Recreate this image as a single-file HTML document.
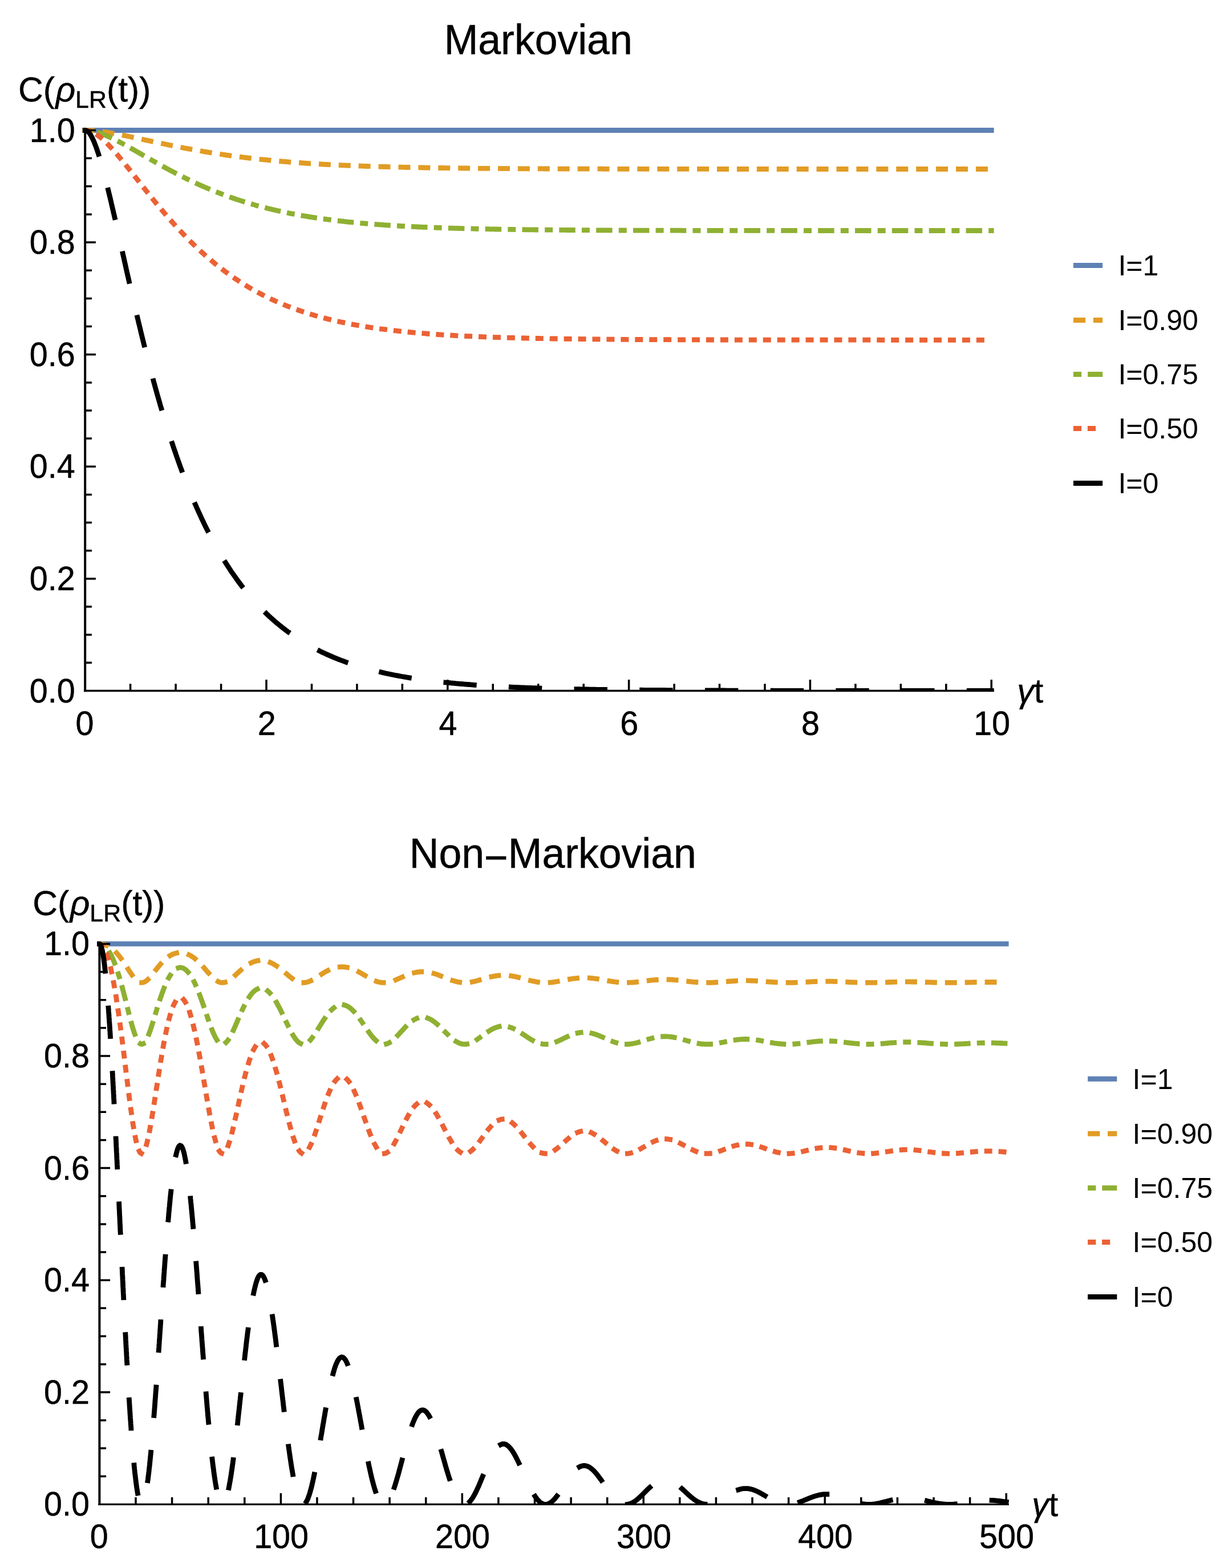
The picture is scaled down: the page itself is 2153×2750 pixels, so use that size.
<!DOCTYPE html>
<html lang="en"><head><meta charset="utf-8"><title>Markovian / Non-Markovian</title>
<style>
html,body{margin:0;padding:0;background:#fff}
svg{display:block}
</style></head>
<body>
<svg width="2153" height="2750" viewBox="0 0 2153 2750">
<rect width="2153" height="2750" fill="#fff"/>
<g id="markovian">
<clipPath id="clipM10"><rect x="119.2" y="198.5" width="1649.0" height="1014.6"/></clipPath>
<g clip-path="url(#clipM10)" fill="none" stroke-width="8.8" stroke-linecap="square" stroke-linejoin="round">
<line x1="149.2" y1="228.5" x2="1738.2" y2="228.5" stroke="#5E81B5" stroke-width="8.8"/>
<polyline points="149.2,228.5 149.6,228.5 151.7,228.5 154.2,228.6 156.7,228.7 159.2,228.8 161.7,229.0 164.2,229.2 166.7,229.4 169.1,229.6 171.6,229.9 174.1,230.2 176.6,230.5 179.1,230.8 181.5,231.2 184.0,231.6 186.5,231.9 188.9,232.3 191.4,232.7 193.9,233.2 196.3,233.6 198.8,234.0 201.3,234.5 203.7,234.9 206.2,235.4 208.6,235.9 211.1,236.3 213.5,236.8 216.0,237.3 218.4,237.8 220.9,238.3 223.3,238.8 225.8,239.3 228.2,239.8 230.7,240.3 233.1,240.9 235.5,241.4 238.0,241.9 240.4,242.4 242.9,242.9 245.3,243.5 247.8,244.0 250.2,244.5 252.6,245.0 255.1,245.6 257.5,246.1 260.0,246.6 262.4,247.1 264.9,247.7 267.3,248.2 269.7,248.7 272.2,249.2 274.6,249.8 277.1,250.3 279.5,250.8 282.0,251.3 284.4,251.8 286.9,252.3 289.3,252.8 291.7,253.3 294.2,253.9 296.6,254.4 299.1,254.9 301.5,255.4 304.0,255.8 306.4,256.3 308.9,256.8 311.3,257.3 313.8,257.8 316.2,258.3 318.7,258.7 321.1,259.2 323.6,259.7 326.1,260.2 328.5,260.6 331.0,261.1 333.4,261.5 335.9,262.0 338.3,262.4 340.8,262.9 343.3,263.3 345.7,263.8 348.2,264.2 350.6,264.6 353.1,265.0 355.6,265.5 358.0,265.9 360.5,266.3 362.9,266.7 365.4,267.1 367.9,267.5 370.3,267.9 372.8,268.3 375.3,268.7 377.7,269.1 380.2,269.5 382.7,269.9 385.2,270.2 387.6,270.6 390.1,271.0 392.6,271.3 395.0,271.7 397.5,272.1 400.0,272.4 402.5,272.8 404.9,273.1 407.4,273.4 409.9,273.8 412.4,274.1 414.8,274.4 417.3,274.8 419.8,275.1 422.3,275.4 424.8,275.7 427.2,276.0 429.7,276.3 432.2,276.6 434.7,276.9 437.2,277.2 439.6,277.5 442.1,277.8 444.6,278.1 447.1,278.4 449.6,278.6 452.0,278.9 454.5,279.2 457.0,279.5 459.5,279.7 462.0,280.0 464.5,280.2 467.0,280.5 469.4,280.7 471.9,281.0 474.4,281.2 476.9,281.5 479.4,281.7 481.9,281.9 484.4,282.2 486.8,282.4 489.3,282.6 491.8,282.8 494.3,283.0 496.8,283.3 499.3,283.5 501.8,283.7 504.3,283.9 506.8,284.1 509.3,284.3 511.7,284.5 514.2,284.7 516.7,284.9 519.2,285.0 521.7,285.2 524.2,285.4 526.7,285.6 529.2,285.8 531.7,285.9 534.2,286.1 536.7,286.3 539.2,286.5 541.6,286.6 544.1,286.8 546.6,286.9 549.1,287.1 551.6,287.2 554.1,287.4 556.6,287.6 559.1,287.7 561.6,287.8 564.1,288.0 566.6,288.1 569.1,288.3 571.6,288.4 574.1,288.5 576.6,288.7 579.1,288.8 581.6,288.9 584.1,289.1 586.5,289.2 589.0,289.3 591.5,289.4 594.0,289.5 596.5,289.7 599.0,289.8 601.5,289.9 604.0,290.0 606.5,290.1 609.0,290.2 611.5,290.3 614.0,290.4 616.5,290.5 619.0,290.6 621.5,290.7 624.0,290.8 626.5,290.9 629.0,291.0 631.5,291.1 634.0,291.2 636.5,291.3 639.0,291.4 641.5,291.5 644.0,291.5 646.5,291.6 649.0,291.7 651.4,291.8 653.9,291.9 656.4,292.0 658.9,292.0 661.4,292.1 663.9,292.2 666.4,292.3 668.9,292.3 671.4,292.4 673.9,292.5 676.4,292.5 678.9,292.6 681.4,292.7 683.9,292.7 686.4,292.8 688.9,292.9 691.4,292.9 693.9,293.0 696.4,293.1 698.9,293.1 701.4,293.2 703.9,293.2 706.4,293.3 708.9,293.3 711.4,293.4 713.9,293.5 716.4,293.5 718.9,293.6 721.4,293.6 723.9,293.7 726.4,293.7 728.9,293.8 731.4,293.8 733.9,293.8 736.4,293.9 738.9,293.9 741.4,294.0 743.9,294.0 746.4,294.1 748.9,294.1 751.4,294.2 753.9,294.2 756.4,294.2 758.8,294.3 761.3,294.3 763.8,294.4 766.3,294.4 768.8,294.4 771.3,294.5 773.8,294.5 776.3,294.5 778.8,294.6 781.3,294.6 783.8,294.6 786.3,294.7 788.8,294.7 791.3,294.7 793.8,294.8 796.3,294.8 798.8,294.8 801.3,294.9 803.8,294.9 806.3,294.9 808.8,294.9 811.3,295.0 813.8,295.0 816.3,295.0 818.8,295.0 821.3,295.1 823.8,295.1 826.3,295.1 828.8,295.1 831.3,295.2 833.8,295.2 836.3,295.2 838.8,295.2 841.3,295.3 843.8,295.3 846.3,295.3 848.8,295.3 851.3,295.3 853.8,295.4 856.3,295.4 858.8,295.4 861.3,295.4 863.8,295.4 866.3,295.5 868.8,295.5 871.3,295.5 873.8,295.5 876.3,295.5 878.8,295.6 881.3,295.6 883.8,295.6 886.3,295.6 888.8,295.6 891.3,295.6 893.8,295.7 896.3,295.7 898.8,295.7 901.2,295.7 903.7,295.7 906.2,295.7 908.7,295.7 911.2,295.8 913.7,295.8 916.2,295.8 918.7,295.8 921.2,295.8 923.7,295.8 926.2,295.8 928.7,295.8 931.2,295.9 933.7,295.9 936.2,295.9 938.7,295.9 941.2,295.9 943.7,295.9 946.2,295.9 948.7,295.9 951.2,295.9 953.7,296.0 956.2,296.0 958.7,296.0 961.2,296.0 963.7,296.0 966.2,296.0 968.7,296.0 971.2,296.0 973.7,296.0 976.2,296.0 978.7,296.0 981.2,296.1 983.7,296.1 986.2,296.1 988.7,296.1 991.2,296.1 993.7,296.1 996.2,296.1 998.7,296.1 1001.2,296.1 1003.7,296.1 1006.2,296.1 1008.7,296.1 1011.2,296.1 1013.7,296.1 1016.2,296.2 1018.7,296.2 1021.2,296.2 1023.7,296.2 1026.2,296.2 1028.7,296.2 1031.2,296.2 1033.7,296.2 1036.2,296.2 1038.7,296.2 1041.2,296.2 1043.7,296.2 1046.2,296.2 1048.7,296.2 1051.1,296.2 1053.6,296.2 1056.1,296.2 1058.6,296.3 1061.1,296.3 1063.6,296.3 1066.1,296.3 1068.6,296.3 1071.1,296.3 1073.6,296.3 1076.1,296.3 1078.6,296.3 1081.1,296.3 1083.6,296.3 1086.1,296.3 1088.6,296.3 1091.1,296.3 1093.6,296.3 1096.1,296.3 1098.6,296.3 1101.1,296.3 1103.6,296.3 1106.1,296.3 1108.6,296.3 1111.1,296.3 1113.6,296.3 1116.1,296.3 1118.6,296.3 1121.1,296.3 1123.6,296.4 1126.1,296.4 1128.6,296.4 1131.1,296.4 1133.6,296.4 1136.1,296.4 1138.6,296.4 1141.1,296.4 1143.6,296.4 1146.1,296.4 1148.6,296.4 1151.1,296.4 1153.6,296.4 1156.1,296.4 1158.6,296.4 1161.1,296.4 1163.6,296.4 1166.1,296.4 1168.6,296.4 1171.1,296.4 1173.6,296.4 1176.1,296.4 1178.6,296.4 1181.1,296.4 1183.6,296.4 1186.1,296.4 1188.6,296.4 1191.1,296.4 1193.6,296.4 1196.1,296.4 1198.6,296.4 1201.1,296.4 1203.5,296.4 1206.0,296.4 1208.5,296.4 1211.0,296.4 1213.5,296.4 1216.0,296.4 1218.5,296.4 1221.0,296.4 1223.5,296.4 1226.0,296.4 1228.5,296.4 1231.0,296.4 1233.5,296.4 1236.0,296.4 1238.5,296.4 1241.0,296.4 1243.5,296.5 1246.0,296.5 1248.5,296.5 1251.0,296.5 1253.5,296.5 1256.0,296.5 1258.5,296.5 1261.0,296.5 1263.5,296.5 1266.0,296.5 1268.5,296.5 1271.0,296.5 1273.5,296.5 1276.0,296.5 1278.5,296.5 1281.0,296.5 1283.5,296.5 1286.0,296.5 1288.5,296.5 1291.0,296.5 1293.5,296.5 1296.0,296.5 1298.5,296.5 1301.0,296.5 1303.5,296.5 1306.0,296.5 1308.5,296.5 1311.0,296.5 1313.5,296.5 1316.0,296.5 1318.5,296.5 1321.0,296.5 1323.5,296.5 1326.0,296.5 1328.5,296.5 1331.0,296.5 1333.5,296.5 1336.0,296.5 1338.5,296.5 1341.0,296.5 1343.5,296.5 1346.0,296.5 1348.5,296.5 1351.0,296.5 1353.5,296.5 1356.0,296.5 1358.4,296.5 1360.9,296.5 1363.4,296.5 1365.9,296.5 1368.4,296.5 1370.9,296.5 1373.4,296.5 1375.9,296.5 1378.4,296.5 1380.9,296.5 1383.4,296.5 1385.9,296.5 1388.4,296.5 1390.9,296.5 1393.4,296.5 1395.9,296.5 1398.4,296.5 1400.9,296.5 1403.4,296.5 1405.9,296.5 1408.4,296.5 1410.9,296.5 1413.4,296.5 1415.9,296.5 1418.4,296.5 1420.9,296.5 1423.4,296.5 1425.9,296.5 1428.4,296.5 1430.9,296.5 1433.4,296.5 1435.9,296.5 1438.4,296.5 1440.9,296.5 1443.4,296.5 1445.9,296.5 1448.4,296.5 1450.9,296.5 1453.4,296.5 1455.9,296.5 1458.4,296.5 1460.9,296.5 1463.4,296.5 1465.9,296.5 1468.4,296.5 1470.9,296.5 1473.4,296.5 1475.9,296.5 1478.4,296.5 1480.9,296.5 1483.4,296.5 1485.9,296.5 1488.4,296.5 1490.9,296.5 1493.4,296.5 1495.9,296.5 1498.4,296.5 1500.9,296.5 1503.4,296.5 1505.9,296.5 1508.4,296.5 1510.8,296.5 1513.3,296.5 1515.8,296.5 1518.3,296.5 1520.8,296.5 1523.3,296.5 1525.8,296.5 1528.3,296.5 1530.8,296.5 1533.3,296.5 1535.8,296.5 1538.3,296.5 1540.8,296.5 1543.3,296.5 1545.8,296.5 1548.3,296.5 1550.8,296.5 1553.3,296.5 1555.8,296.5 1558.3,296.5 1560.8,296.5 1563.3,296.5 1565.8,296.5 1568.3,296.5 1570.8,296.5 1573.3,296.5 1575.8,296.5 1578.3,296.5 1580.8,296.5 1583.3,296.5 1585.8,296.5 1588.3,296.5 1590.8,296.5 1593.3,296.5 1595.8,296.5 1598.3,296.5 1600.8,296.5 1603.3,296.5 1605.8,296.5 1608.3,296.5 1610.8,296.5 1613.3,296.5 1615.8,296.5 1618.3,296.5 1620.8,296.5 1623.3,296.5 1625.8,296.5 1628.3,296.5 1630.8,296.5 1633.3,296.5 1635.8,296.5 1638.3,296.5 1640.8,296.5 1643.3,296.5 1645.8,296.5 1648.3,296.5 1650.8,296.5 1653.3,296.5 1655.8,296.5 1658.3,296.5 1660.8,296.5 1663.2,296.5 1665.7,296.5 1668.2,296.5 1670.7,296.5 1673.2,296.5 1675.7,296.5 1678.2,296.5 1680.7,296.5 1683.2,296.5 1685.7,296.5 1688.2,296.5 1690.7,296.5 1693.2,296.5 1695.7,296.5 1698.2,296.5 1700.7,296.5 1703.2,296.5 1705.7,296.5 1708.2,296.5 1710.7,296.5 1713.2,296.5 1715.7,296.5 1718.2,296.5 1720.7,296.5 1723.2,296.5 1725.7,296.5 1728.2,296.5 1730.7,296.5 1733.2,296.5 1735.7,296.5 1738.2,296.5" stroke="#E19C24" stroke-dasharray="12.2 22.715"/>
<polyline points="149.2,228.5 149.6,228.5 151.7,228.6 154.2,228.7 156.7,229.0 159.1,229.4 161.6,229.8 164.0,230.3 166.5,230.9 168.9,231.6 171.3,232.3 173.7,233.0 176.0,233.8 178.4,234.7 180.7,235.6 183.0,236.5 185.4,237.4 187.7,238.4 189.9,239.4 192.2,240.4 194.5,241.5 196.7,242.6 199.0,243.7 201.2,244.8 203.5,245.9 205.7,247.0 207.9,248.2 210.1,249.3 212.3,250.5 214.5,251.7 216.7,252.9 218.9,254.1 221.1,255.3 223.3,256.5 225.5,257.7 227.6,258.9 229.8,260.2 232.0,261.4 234.2,262.6 236.3,263.9 238.5,265.1 240.7,266.3 242.8,267.6 245.0,268.8 247.2,270.1 249.3,271.3 251.5,272.6 253.7,273.8 255.8,275.0 258.0,276.3 260.2,277.5 262.3,278.8 264.5,280.0 266.7,281.2 268.9,282.5 271.0,283.7 273.2,284.9 275.4,286.2 277.6,287.4 279.8,288.6 281.9,289.8 284.1,291.0 286.3,292.2 288.5,293.4 290.7,294.6 292.9,295.8 295.1,297.0 297.3,298.2 299.5,299.4 301.7,300.5 303.9,301.7 306.1,302.9 308.3,304.0 310.6,305.2 312.8,306.3 315.0,307.4 317.2,308.6 319.5,309.7 321.7,310.8 323.9,311.9 326.2,313.0 328.4,314.1 330.7,315.2 332.9,316.3 335.2,317.4 337.4,318.5 339.7,319.5 342.0,320.6 344.2,321.6 346.5,322.7 348.8,323.7 351.1,324.7 353.3,325.7 355.6,326.7 357.9,327.7 360.2,328.7 362.5,329.7 364.8,330.7 367.1,331.7 369.4,332.6 371.7,333.6 374.0,334.5 376.3,335.5 378.7,336.4 381.0,337.3 383.3,338.2 385.6,339.1 388.0,340.0 390.3,340.9 392.7,341.8 395.0,342.6 397.3,343.5 399.7,344.3 402.0,345.2 404.4,346.0 406.8,346.8 409.1,347.7 411.5,348.5 413.9,349.3 416.2,350.1 418.6,350.8 421.0,351.6 423.3,352.4 425.7,353.1 428.1,353.9 430.5,354.6 432.9,355.4 435.3,356.1 437.7,356.8 440.1,357.5 442.5,358.2 444.9,358.9 447.3,359.6 449.7,360.3 452.1,360.9 454.5,361.6 456.9,362.2 459.3,362.9 461.7,363.5 464.2,364.1 466.6,364.7 469.0,365.4 471.4,366.0 473.9,366.5 476.3,367.1 478.7,367.7 481.1,368.3 483.6,368.8 486.0,369.4 488.5,369.9 490.9,370.5 493.3,371.0 495.8,371.5 498.2,372.1 500.7,372.6 503.1,373.1 505.6,373.6 508.0,374.1 510.5,374.6 512.9,375.0 515.4,375.5 517.8,376.0 520.3,376.4 522.7,376.9 525.2,377.3 527.7,377.8 530.1,378.2 532.6,378.6 535.0,379.0 537.5,379.4 540.0,379.9 542.4,380.3 544.9,380.7 547.4,381.0 549.8,381.4 552.3,381.8 554.8,382.2 557.3,382.5 559.7,382.9 562.2,383.3 564.7,383.6 567.1,383.9 569.6,384.3 572.1,384.6 574.6,385.0 577.1,385.3 579.5,385.6 582.0,385.9 584.5,386.2 587.0,386.5 589.5,386.8 591.9,387.1 594.4,387.4 596.9,387.7 599.4,388.0 601.9,388.2 604.3,388.5 606.8,388.8 609.3,389.1 611.8,389.3 614.3,389.6 616.8,389.8 619.3,390.1 621.7,390.3 624.2,390.5 626.7,390.8 629.2,391.0 631.7,391.2 634.2,391.5 636.7,391.7 639.2,391.9 641.6,392.1 644.1,392.3 646.6,392.5 649.1,392.7 651.6,392.9 654.1,393.1 656.6,393.3 659.1,393.5 661.6,393.7 664.1,393.9 666.6,394.1 669.0,394.2 671.5,394.4 674.0,394.6 676.5,394.8 679.0,394.9 681.5,395.1 684.0,395.3 686.5,395.4 689.0,395.6 691.5,395.7 694.0,395.9 696.5,396.0 699.0,396.2 701.5,396.3 704.0,396.5 706.5,396.6 708.9,396.7 711.4,396.9 713.9,397.0 716.4,397.1 718.9,397.2 721.4,397.4 723.9,397.5 726.4,397.6 728.9,397.7 731.4,397.9 733.9,398.0 736.4,398.1 738.9,398.2 741.4,398.3 743.9,398.4 746.4,398.5 748.9,398.6 751.4,398.7 753.9,398.8 756.4,398.9 758.9,399.0 761.4,399.1 763.9,399.2 766.4,399.3 768.8,399.4 771.3,399.5 773.8,399.6 776.3,399.6 778.8,399.7 781.3,399.8 783.8,399.9 786.3,400.0 788.8,400.1 791.3,400.1 793.8,400.2 796.3,400.3 798.8,400.4 801.3,400.4 803.8,400.5 806.3,400.6 808.8,400.6 811.3,400.7 813.8,400.8 816.3,400.8 818.8,400.9 821.3,401.0 823.8,401.0 826.3,401.1 828.8,401.1 831.3,401.2 833.8,401.3 836.3,401.3 838.8,401.4 841.3,401.4 843.8,401.5 846.3,401.5 848.8,401.6 851.3,401.6 853.8,401.7 856.3,401.7 858.8,401.8 861.3,401.8 863.8,401.9 866.3,401.9 868.8,402.0 871.2,402.0 873.7,402.1 876.2,402.1 878.7,402.1 881.2,402.2 883.7,402.2 886.2,402.3 888.7,402.3 891.2,402.3 893.7,402.4 896.2,402.4 898.7,402.4 901.2,402.5 903.7,402.5 906.2,402.6 908.7,402.6 911.2,402.6 913.7,402.7 916.2,402.7 918.7,402.7 921.2,402.8 923.7,402.8 926.2,402.8 928.7,402.8 931.2,402.9 933.7,402.9 936.2,402.9 938.7,403.0 941.2,403.0 943.7,403.0 946.2,403.0 948.7,403.1 951.2,403.1 953.7,403.1 956.2,403.1 958.7,403.2 961.2,403.2 963.7,403.2 966.2,403.2 968.7,403.3 971.2,403.3 973.7,403.3 976.2,403.3 978.7,403.3 981.2,403.4 983.7,403.4 986.2,403.4 988.7,403.4 991.2,403.4 993.7,403.5 996.2,403.5 998.7,403.5 1001.2,403.5 1003.7,403.5 1006.2,403.5 1008.7,403.6 1011.2,403.6 1013.7,403.6 1016.2,403.6 1018.6,403.6 1021.1,403.6 1023.6,403.7 1026.1,403.7 1028.6,403.7 1031.1,403.7 1033.6,403.7 1036.1,403.7 1038.6,403.7 1041.1,403.8 1043.6,403.8 1046.1,403.8 1048.6,403.8 1051.1,403.8 1053.6,403.8 1056.1,403.8 1058.6,403.8 1061.1,403.9 1063.6,403.9 1066.1,403.9 1068.6,403.9 1071.1,403.9 1073.6,403.9 1076.1,403.9 1078.6,403.9 1081.1,403.9 1083.6,403.9 1086.1,404.0 1088.6,404.0 1091.1,404.0 1093.6,404.0 1096.1,404.0 1098.6,404.0 1101.1,404.0 1103.6,404.0 1106.1,404.0 1108.6,404.0 1111.1,404.0 1113.6,404.1 1116.1,404.1 1118.6,404.1 1121.1,404.1 1123.6,404.1 1126.1,404.1 1128.6,404.1 1131.1,404.1 1133.6,404.1 1136.1,404.1 1138.6,404.1 1141.1,404.1 1143.6,404.1 1146.1,404.1 1148.6,404.2 1151.1,404.2 1153.6,404.2 1156.1,404.2 1158.6,404.2 1161.1,404.2 1163.6,404.2 1166.1,404.2 1168.6,404.2 1171.1,404.2 1173.6,404.2 1176.0,404.2 1178.5,404.2 1181.0,404.2 1183.5,404.2 1186.0,404.2 1188.5,404.2 1191.0,404.2 1193.5,404.2 1196.0,404.3 1198.5,404.3 1201.0,404.3 1203.5,404.3 1206.0,404.3 1208.5,404.3 1211.0,404.3 1213.5,404.3 1216.0,404.3 1218.5,404.3 1221.0,404.3 1223.5,404.3 1226.0,404.3 1228.5,404.3 1231.0,404.3 1233.5,404.3 1236.0,404.3 1238.5,404.3 1241.0,404.3 1243.5,404.3 1246.0,404.3 1248.5,404.3 1251.0,404.3 1253.5,404.3 1256.0,404.3 1258.5,404.3 1261.0,404.3 1263.5,404.3 1266.0,404.4 1268.5,404.4 1271.0,404.4 1273.5,404.4 1276.0,404.4 1278.5,404.4 1281.0,404.4 1283.5,404.4 1286.0,404.4 1288.5,404.4 1291.0,404.4 1293.5,404.4 1296.0,404.4 1298.5,404.4 1301.0,404.4 1303.5,404.4 1306.0,404.4 1308.5,404.4 1311.0,404.4 1313.5,404.4 1316.0,404.4 1318.5,404.4 1321.0,404.4 1323.5,404.4 1326.0,404.4 1328.5,404.4 1331.0,404.4 1333.5,404.4 1335.9,404.4 1338.4,404.4 1340.9,404.4 1343.4,404.4 1345.9,404.4 1348.4,404.4 1350.9,404.4 1353.4,404.4 1355.9,404.4 1358.4,404.4 1360.9,404.4 1363.4,404.4 1365.9,404.4 1368.4,404.4 1370.9,404.4 1373.4,404.4 1375.9,404.4 1378.4,404.4 1380.9,404.4 1383.4,404.4 1385.9,404.4 1388.4,404.4 1390.9,404.4 1393.4,404.4 1395.9,404.4 1398.4,404.4 1400.9,404.4 1403.4,404.4 1405.9,404.4 1408.4,404.4 1410.9,404.4 1413.4,404.5 1415.9,404.5 1418.4,404.5 1420.9,404.5 1423.4,404.5 1425.9,404.5 1428.4,404.5 1430.9,404.5 1433.4,404.5 1435.9,404.5 1438.4,404.5 1440.9,404.5 1443.4,404.5 1445.9,404.5 1448.4,404.5 1450.9,404.5 1453.4,404.5 1455.9,404.5 1458.4,404.5 1460.9,404.5 1463.4,404.5 1465.9,404.5 1468.4,404.5 1470.9,404.5 1473.4,404.5 1475.9,404.5 1478.4,404.5 1480.9,404.5 1483.4,404.5 1485.9,404.5 1488.4,404.5 1490.9,404.5 1493.4,404.5 1495.9,404.5 1498.3,404.5 1500.8,404.5 1503.3,404.5 1505.8,404.5 1508.3,404.5 1510.8,404.5 1513.3,404.5 1515.8,404.5 1518.3,404.5 1520.8,404.5 1523.3,404.5 1525.8,404.5 1528.3,404.5 1530.8,404.5 1533.3,404.5 1535.8,404.5 1538.3,404.5 1540.8,404.5 1543.3,404.5 1545.8,404.5 1548.3,404.5 1550.8,404.5 1553.3,404.5 1555.8,404.5 1558.3,404.5 1560.8,404.5 1563.3,404.5 1565.8,404.5 1568.3,404.5 1570.8,404.5 1573.3,404.5 1575.8,404.5 1578.3,404.5 1580.8,404.5 1583.3,404.5 1585.8,404.5 1588.3,404.5 1590.8,404.5 1593.3,404.5 1595.8,404.5 1598.3,404.5 1600.8,404.5 1603.3,404.5 1605.8,404.5 1608.3,404.5 1610.8,404.5 1613.3,404.5 1615.8,404.5 1618.3,404.5 1620.8,404.5 1623.3,404.5 1625.8,404.5 1628.3,404.5 1630.8,404.5 1633.3,404.5 1635.8,404.5 1638.3,404.5 1640.8,404.5 1643.3,404.5 1645.8,404.5 1648.3,404.5 1650.8,404.5 1653.3,404.5 1655.8,404.5 1658.2,404.5 1660.7,404.5 1663.2,404.5 1665.7,404.5 1668.2,404.5 1670.7,404.5 1673.2,404.5 1675.7,404.5 1678.2,404.5 1680.7,404.5 1683.2,404.5 1685.7,404.5 1688.2,404.5 1690.7,404.5 1693.2,404.5 1695.7,404.5 1698.2,404.5 1700.7,404.5 1703.2,404.5 1705.7,404.5 1708.2,404.5 1710.7,404.5 1713.2,404.5 1715.7,404.5 1718.2,404.5 1720.7,404.5 1723.2,404.5 1725.7,404.5 1728.2,404.5 1730.7,404.5 1733.2,404.5 1735.7,404.5 1738.2,404.5" stroke="#8FB032" stroke-dasharray="5.2 19.97 19.7 19.97"/>
<polyline points="149.2,228.5 149.6,228.5 151.7,228.6 154.2,229.0 156.6,229.6 158.9,230.4 161.3,231.4 163.5,232.5 165.7,233.7 167.8,235.0 169.9,236.3 171.9,237.8 173.9,239.3 175.9,240.8 177.8,242.4 179.7,244.0 181.6,245.7 183.4,247.4 185.2,249.1 187.0,250.9 188.8,252.6 190.5,254.4 192.2,256.2 193.9,258.1 195.6,259.9 197.3,261.7 199.0,263.6 200.6,265.5 202.3,267.4 203.9,269.2 205.5,271.1 207.1,273.0 208.7,275.0 210.3,276.9 211.9,278.8 213.5,280.7 215.1,282.7 216.7,284.6 218.3,286.5 219.8,288.5 221.4,290.4 222.9,292.4 224.5,294.3 226.1,296.3 227.6,298.2 229.2,300.2 230.7,302.2 232.2,304.1 233.8,306.1 235.3,308.0 236.9,310.0 238.4,312.0 240.0,313.9 241.5,315.9 243.0,317.9 244.6,319.8 246.1,321.8 247.7,323.7 249.2,325.7 250.8,327.7 252.3,329.6 253.9,331.6 255.4,333.5 257.0,335.5 258.5,337.5 260.1,339.4 261.6,341.4 263.2,343.3 264.7,345.3 266.3,347.2 267.9,349.1 269.5,351.1 271.0,353.0 272.6,355.0 274.2,356.9 275.8,358.8 277.4,360.7 279.0,362.7 280.6,364.6 282.2,366.5 283.8,368.4 285.4,370.3 287.0,372.2 288.6,374.1 290.2,376.0 291.8,377.9 293.5,379.8 295.1,381.7 296.7,383.6 298.4,385.5 300.0,387.3 301.7,389.2 303.4,391.1 305.0,392.9 306.7,394.8 308.4,396.6 310.1,398.5 311.7,400.3 313.4,402.2 315.1,404.0 316.8,405.8 318.6,407.6 320.3,409.4 322.0,411.2 323.7,413.0 325.5,414.8 327.2,416.6 328.9,418.4 330.7,420.2 332.5,422.0 334.2,423.7 336.0,425.5 337.8,427.2 339.6,429.0 341.4,430.7 343.2,432.4 345.0,434.1 346.8,435.9 348.6,437.6 350.5,439.3 352.3,441.0 354.1,442.6 356.0,444.3 357.8,446.0 359.7,447.6 361.6,449.3 363.5,450.9 365.3,452.6 367.2,454.2 369.1,455.8 371.1,457.4 373.0,459.0 374.9,460.6 376.8,462.2 378.8,463.8 380.7,465.3 382.7,466.9 384.6,468.4 386.6,470.0 388.6,471.5 390.6,473.0 392.5,474.5 394.5,476.0 396.6,477.5 398.6,479.0 400.6,480.4 402.6,481.9 404.7,483.3 406.7,484.8 408.8,486.2 410.8,487.6 412.9,489.0 415.0,490.4 417.0,491.8 419.1,493.1 421.2,494.5 423.3,495.8 425.4,497.2 427.5,498.5 429.7,499.8 431.8,501.1 433.9,502.4 436.1,503.7 438.2,505.0 440.4,506.2 442.6,507.5 444.7,508.7 446.9,509.9 449.1,511.1 451.3,512.3 453.5,513.5 455.7,514.7 457.9,515.8 460.1,517.0 462.3,518.1 464.6,519.2 466.8,520.4 469.0,521.5 471.3,522.6 473.5,523.6 475.8,524.7 478.0,525.8 480.3,526.8 482.6,527.8 484.9,528.9 487.2,529.9 489.4,530.9 491.7,531.8 494.0,532.8 496.3,533.8 498.6,534.7 501.0,535.7 503.3,536.6 505.6,537.5 507.9,538.4 510.3,539.3 512.6,540.2 514.9,541.1 517.3,541.9 519.6,542.8 522.0,543.6 524.3,544.4 526.7,545.2 529.1,546.0 531.4,546.8 533.8,547.6 536.2,548.4 538.6,549.2 540.9,549.9 543.3,550.6 545.7,551.4 548.1,552.1 550.5,552.8 552.9,553.5 555.3,554.2 557.7,554.9 560.1,555.5 562.5,556.2 564.9,556.9 567.3,557.5 569.7,558.1 572.2,558.8 574.6,559.4 577.0,560.0 579.4,560.6 581.8,561.2 584.3,561.7 586.7,562.3 589.1,562.9 591.6,563.4 594.0,564.0 596.5,564.5 598.9,565.0 601.3,565.5 603.8,566.1 606.2,566.6 608.7,567.1 611.1,567.5 613.6,568.0 616.0,568.5 618.5,569.0 620.9,569.4 623.4,569.9 625.8,570.3 628.3,570.8 630.8,571.2 633.2,571.6 635.7,572.0 638.1,572.4 640.6,572.8 643.1,573.2 645.5,573.6 648.0,574.0 650.5,574.4 652.9,574.8 655.4,575.1 657.9,575.5 660.4,575.8 662.8,576.2 665.3,576.5 667.8,576.9 670.2,577.2 672.7,577.5 675.2,577.8 677.7,578.2 680.2,578.5 682.6,578.8 685.1,579.1 687.6,579.4 690.1,579.7 692.5,579.9 695.0,580.2 697.5,580.5 700.0,580.8 702.5,581.0 705.0,581.3 707.4,581.6 709.9,581.8 712.4,582.1 714.9,582.3 717.4,582.5 719.9,582.8 722.4,583.0 724.8,583.2 727.3,583.5 729.8,583.7 732.3,583.9 734.8,584.1 737.3,584.3 739.8,584.5 742.2,584.7 744.7,584.9 747.2,585.1 749.7,585.3 752.2,585.5 754.7,585.7 757.2,585.9 759.7,586.1 762.2,586.2 764.7,586.4 767.1,586.6 769.6,586.8 772.1,586.9 774.6,587.1 777.1,587.2 779.6,587.4 782.1,587.6 784.6,587.7 787.1,587.9 789.6,588.0 792.1,588.1 794.6,588.3 797.1,588.4 799.5,588.6 802.0,588.7 804.5,588.8 807.0,589.0 809.5,589.1 812.0,589.2 814.5,589.3 817.0,589.5 819.5,589.6 822.0,589.7 824.5,589.8 827.0,589.9 829.5,590.0 832.0,590.1 834.5,590.2 837.0,590.4 839.4,590.5 841.9,590.6 844.4,590.7 846.9,590.8 849.4,590.9 851.9,590.9 854.4,591.0 856.9,591.1 859.4,591.2 861.9,591.3 864.4,591.4 866.9,591.5 869.4,591.6 871.9,591.7 874.4,591.7 876.9,591.8 879.4,591.9 881.9,592.0 884.4,592.0 886.9,592.1 889.4,592.2 891.8,592.3 894.3,592.3 896.8,592.4 899.3,592.5 901.8,592.5 904.3,592.6 906.8,592.7 909.3,592.7 911.8,592.8 914.3,592.9 916.8,592.9 919.3,593.0 921.8,593.0 924.3,593.1 926.8,593.1 929.3,593.2 931.8,593.3 934.3,593.3 936.8,593.4 939.3,593.4 941.8,593.5 944.3,593.5 946.8,593.6 949.3,593.6 951.8,593.7 954.2,593.7 956.7,593.7 959.2,593.8 961.7,593.8 964.2,593.9 966.7,593.9 969.2,594.0 971.7,594.0 974.2,594.0 976.7,594.1 979.2,594.1 981.7,594.2 984.2,594.2 986.7,594.2 989.2,594.3 991.7,594.3 994.2,594.3 996.7,594.4 999.2,594.4 1001.7,594.4 1004.2,594.5 1006.7,594.5 1009.2,594.5 1011.7,594.6 1014.2,594.6 1016.7,594.6 1019.2,594.7 1021.7,594.7 1024.1,594.7 1026.6,594.7 1029.1,594.8 1031.6,594.8 1034.1,594.8 1036.6,594.8 1039.1,594.9 1041.6,594.9 1044.1,594.9 1046.6,594.9 1049.1,595.0 1051.6,595.0 1054.1,595.0 1056.6,595.0 1059.1,595.1 1061.6,595.1 1064.1,595.1 1066.6,595.1 1069.1,595.1 1071.6,595.2 1074.1,595.2 1076.6,595.2 1079.1,595.2 1081.6,595.2 1084.1,595.3 1086.6,595.3 1089.1,595.3 1091.6,595.3 1094.1,595.3 1096.5,595.3 1099.0,595.4 1101.5,595.4 1104.0,595.4 1106.5,595.4 1109.0,595.4 1111.5,595.4 1114.0,595.5 1116.5,595.5 1119.0,595.5 1121.5,595.5 1124.0,595.5 1126.5,595.5 1129.0,595.5 1131.5,595.6 1134.0,595.6 1136.5,595.6 1139.0,595.6 1141.5,595.6 1144.0,595.6 1146.5,595.6 1149.0,595.6 1151.5,595.6 1154.0,595.7 1156.5,595.7 1159.0,595.7 1161.5,595.7 1164.0,595.7 1166.5,595.7 1169.0,595.7 1171.4,595.7 1173.9,595.7 1176.4,595.8 1178.9,595.8 1181.4,595.8 1183.9,595.8 1186.4,595.8 1188.9,595.8 1191.4,595.8 1193.9,595.8 1196.4,595.8 1198.9,595.8 1201.4,595.8 1203.9,595.8 1206.4,595.9 1208.9,595.9 1211.4,595.9 1213.9,595.9 1216.4,595.9 1218.9,595.9 1221.4,595.9 1223.9,595.9 1226.4,595.9 1228.9,595.9 1231.4,595.9 1233.9,595.9 1236.4,595.9 1238.9,595.9 1241.4,596.0 1243.9,596.0 1246.3,596.0 1248.8,596.0 1251.3,596.0 1253.8,596.0 1256.3,596.0 1258.8,596.0 1261.3,596.0 1263.8,596.0 1266.3,596.0 1268.8,596.0 1271.3,596.0 1273.8,596.0 1276.3,596.0 1278.8,596.0 1281.3,596.0 1283.8,596.0 1286.3,596.0 1288.8,596.0 1291.3,596.1 1293.8,596.1 1296.3,596.1 1298.8,596.1 1301.3,596.1 1303.8,596.1 1306.3,596.1 1308.8,596.1 1311.3,596.1 1313.8,596.1 1316.3,596.1 1318.8,596.1 1321.3,596.1 1323.7,596.1 1326.2,596.1 1328.7,596.1 1331.2,596.1 1333.7,596.1 1336.2,596.1 1338.7,596.1 1341.2,596.1 1343.7,596.1 1346.2,596.1 1348.7,596.1 1351.2,596.1 1353.7,596.1 1356.2,596.1 1358.7,596.1 1361.2,596.1 1363.7,596.1 1366.2,596.2 1368.7,596.2 1371.2,596.2 1373.7,596.2 1376.2,596.2 1378.7,596.2 1381.2,596.2 1383.7,596.2 1386.2,596.2 1388.7,596.2 1391.2,596.2 1393.7,596.2 1396.2,596.2 1398.6,596.2 1401.1,596.2 1403.6,596.2 1406.1,596.2 1408.6,596.2 1411.1,596.2 1413.6,596.2 1416.1,596.2 1418.6,596.2 1421.1,596.2 1423.6,596.2 1426.1,596.2 1428.6,596.2 1431.1,596.2 1433.6,596.2 1436.1,596.2 1438.6,596.2 1441.1,596.2 1443.6,596.2 1446.1,596.2 1448.6,596.2 1451.1,596.2 1453.6,596.2 1456.1,596.2 1458.6,596.2 1461.1,596.2 1463.6,596.2 1466.1,596.2 1468.6,596.2 1471.1,596.2 1473.5,596.2 1476.0,596.2 1478.5,596.2 1481.0,596.2 1483.5,596.2 1486.0,596.2 1488.5,596.2 1491.0,596.2 1493.5,596.2 1496.0,596.2 1498.5,596.2 1501.0,596.2 1503.5,596.2 1506.0,596.2 1508.5,596.2 1511.0,596.2 1513.5,596.2 1516.0,596.2 1518.5,596.2 1521.0,596.2 1523.5,596.2 1526.0,596.2 1528.5,596.2 1531.0,596.2 1533.5,596.2 1536.0,596.2 1538.5,596.2 1541.0,596.2 1543.5,596.3 1546.0,596.3 1548.5,596.3 1550.9,596.3 1553.4,596.3 1555.9,596.3 1558.4,596.3 1560.9,596.3 1563.4,596.3 1565.9,596.3 1568.4,596.3 1570.9,596.3 1573.4,596.3 1575.9,596.3 1578.4,596.3 1580.9,596.3 1583.4,596.3 1585.9,596.3 1588.4,596.3 1590.9,596.3 1593.4,596.3 1595.9,596.3 1598.4,596.3 1600.9,596.3 1603.4,596.3 1605.9,596.3 1608.4,596.3 1610.9,596.3 1613.4,596.3 1615.9,596.3 1618.4,596.3 1620.9,596.3 1623.4,596.3 1625.8,596.3 1628.3,596.3 1630.8,596.3 1633.3,596.3 1635.8,596.3 1638.3,596.3 1640.8,596.3 1643.3,596.3 1645.8,596.3 1648.3,596.3 1650.8,596.3 1653.3,596.3 1655.8,596.3 1658.3,596.3 1660.8,596.3 1663.3,596.3 1665.8,596.3 1668.3,596.3 1670.8,596.3 1673.3,596.3 1675.8,596.3 1678.3,596.3 1680.8,596.3 1683.3,596.3 1685.8,596.3 1688.3,596.3 1690.8,596.3 1693.3,596.3 1695.8,596.3 1698.3,596.3 1700.7,596.3 1703.2,596.3 1705.7,596.3 1708.2,596.3 1710.7,596.3 1713.2,596.3 1715.7,596.3 1718.2,596.3 1720.7,596.3 1723.2,596.3 1725.7,596.3 1728.2,596.3 1730.7,596.3 1733.2,596.3 1735.7,596.3 1738.2,596.3" stroke="#EB6235" stroke-dasharray="5.2 19.74"/>
<polyline points="149.2,228.5 149.6,228.5 151.6,229.1 153.7,230.4 155.5,232.1 157.1,234.1 158.5,236.1 159.8,238.3 161.0,240.5 162.1,242.7 163.2,244.9 164.2,247.2 165.2,249.5 166.1,251.8 167.0,254.2 167.9,256.5 168.8,258.8 169.6,261.2 170.4,263.6 171.2,265.9 172.0,268.3 172.8,270.7 173.5,273.1 174.3,275.5 175.0,277.8 175.7,280.2 176.4,282.6 177.1,285.0 177.8,287.4 178.5,289.8 179.1,292.2 179.8,294.7 180.5,297.1 181.1,299.5 181.8,301.9 182.4,304.3 183.0,306.7 183.7,309.1 184.3,311.6 184.9,314.0 185.5,316.4 186.2,318.8 186.8,321.2 187.4,323.7 188.0,326.1 188.6,328.5 189.2,330.9 189.8,333.4 190.3,335.8 190.9,338.2 191.5,340.6 192.1,343.1 192.7,345.5 193.3,347.9 193.8,350.4 194.4,352.8 195.0,355.2 195.5,357.7 196.1,360.1 196.7,362.5 197.2,365.0 197.8,367.4 198.4,369.8 198.9,372.3 199.5,374.7 200.1,377.1 200.6,379.6 201.2,382.0 201.7,384.4 202.3,386.9 202.8,389.3 203.4,391.8 203.9,394.2 204.5,396.6 205.0,399.1 205.6,401.5 206.1,403.9 206.7,406.4 207.2,408.8 207.8,411.2 208.3,413.7 208.9,416.1 209.4,418.6 210.0,421.0 210.5,423.4 211.1,425.9 211.6,428.3 212.2,430.8 212.7,433.2 213.2,435.6 213.8,438.1 214.3,440.5 214.9,442.9 215.4,445.4 216.0,447.8 216.5,450.3 217.1,452.7 217.6,455.1 218.2,457.6 218.7,460.0 219.3,462.4 219.8,464.9 220.4,467.3 220.9,469.8 221.4,472.2 222.0,474.6 222.5,477.1 223.1,479.5 223.6,481.9 224.2,484.4 224.8,486.8 225.3,489.3 225.9,491.7 226.4,494.1 227.0,496.6 227.5,499.0 228.1,501.4 228.6,503.9 229.2,506.3 229.7,508.7 230.3,511.2 230.9,513.6 231.4,516.0 232.0,518.5 232.5,520.9 233.1,523.3 233.7,525.8 234.2,528.2 234.8,530.6 235.4,533.1 235.9,535.5 236.5,537.9 237.1,540.4 237.6,542.8 238.2,545.2 238.8,547.7 239.4,550.1 239.9,552.5 240.5,555.0 241.1,557.4 241.7,559.8 242.3,562.3 242.8,564.7 243.4,567.1 244.0,569.5 244.6,572.0 245.2,574.4 245.8,576.8 246.4,579.3 246.9,581.7 247.5,584.1 248.1,586.5 248.7,589.0 249.3,591.4 249.9,593.8 250.5,596.2 251.1,598.7 251.7,601.1 252.3,603.5 252.9,605.9 253.5,608.4 254.2,610.8 254.8,613.2 255.4,615.6 256.0,618.0 256.6,620.5 257.2,622.9 257.8,625.3 258.5,627.7 259.1,630.2 259.7,632.6 260.3,635.0 261.0,637.4 261.6,639.8 262.2,642.2 262.9,644.7 263.5,647.1 264.1,649.5 264.8,651.9 265.4,654.3 266.1,656.7 266.7,659.1 267.4,661.6 268.0,664.0 268.7,666.4 269.3,668.8 270.0,671.2 270.7,673.6 271.3,676.0 272.0,678.4 272.6,680.8 273.3,683.2 274.0,685.6 274.7,688.0 275.3,690.5 276.0,692.9 276.7,695.3 277.4,697.7 278.1,700.1 278.8,702.5 279.5,704.9 280.2,707.3 280.8,709.7 281.5,712.1 282.3,714.5 283.0,716.9 283.7,719.3 284.4,721.7 285.1,724.0 285.8,726.4 286.5,728.8 287.2,731.2 288.0,733.6 288.7,736.0 289.4,738.4 290.2,740.8 290.9,743.2 291.6,745.6 292.4,747.9 293.1,750.3 293.9,752.7 294.6,755.1 295.4,757.5 296.2,759.8 296.9,762.2 297.7,764.6 298.5,767.0 299.2,769.4 300.0,771.7 300.8,774.1 301.6,776.5 302.4,778.8 303.1,781.2 303.9,783.6 304.7,786.0 305.5,788.3 306.3,790.7 307.2,793.0 308.0,795.4 308.8,797.8 309.6,800.1 310.4,802.5 311.3,804.8 312.1,807.2 312.9,809.6 313.8,811.9 314.6,814.3 315.5,816.6 316.3,819.0 317.2,821.3 318.0,823.6 318.9,826.0 319.8,828.3 320.7,830.7 321.5,833.0 322.4,835.3 323.3,837.7 324.2,840.0 325.1,842.3 326.0,844.7 326.9,847.0 327.8,849.3 328.7,851.6 329.7,854.0 330.6,856.3 331.5,858.6 332.5,860.9 333.4,863.2 334.4,865.5 335.3,867.9 336.3,870.2 337.2,872.5 338.2,874.8 339.2,877.1 340.2,879.4 341.1,881.7 342.1,884.0 343.1,886.3 344.1,888.5 345.1,890.8 346.2,893.1 347.2,895.4 348.2,897.7 349.2,899.9 350.3,902.2 351.3,904.5 352.4,906.7 353.4,909.0 354.5,911.3 355.6,913.5 356.6,915.8 357.7,918.0 358.8,920.3 359.9,922.5 361.0,924.8 362.1,927.0 363.2,929.2 364.4,931.5 365.5,933.7 366.6,935.9 367.8,938.1 368.9,940.4 370.1,942.6 371.3,944.8 372.4,947.0 373.6,949.2 374.8,951.4 376.0,953.6 377.2,955.8 378.4,957.9 379.6,960.1 380.9,962.3 382.1,964.5 383.4,966.6 384.6,968.8 385.9,971.0 387.1,973.1 388.4,975.3 389.7,977.4 391.0,979.5 392.3,981.7 393.6,983.8 394.9,985.9 396.3,988.0 397.6,990.1 399.0,992.2 400.3,994.3 401.7,996.4 403.1,998.5 404.4,1000.6 405.8,1002.7 407.2,1004.7 408.7,1006.8 410.1,1008.8 411.5,1010.9 413.0,1012.9 414.4,1015.0 415.9,1017.0 417.3,1019.0 418.8,1021.0 420.3,1023.0 421.8,1025.0 423.3,1027.0 424.9,1029.0 426.4,1031.0 427.9,1032.9 429.5,1034.9 431.1,1036.8 432.6,1038.8 434.2,1040.7 435.8,1042.6 437.4,1044.5 439.0,1046.4 440.7,1048.3 442.3,1050.2 444.0,1052.1 445.6,1053.9 447.3,1055.8 449.0,1057.6 450.7,1059.5 452.4,1061.3 454.1,1063.1 455.8,1064.9 457.5,1066.7 459.3,1068.5 461.1,1070.3 462.8,1072.0 464.6,1073.8 466.4,1075.5 468.2,1077.3 470.0,1079.0 471.8,1080.7 473.7,1082.4 475.5,1084.1 477.4,1085.7 479.3,1087.4 481.1,1089.0 483.0,1090.7 484.9,1092.3 486.9,1093.9 488.8,1095.5 490.7,1097.1 492.7,1098.6 494.6,1100.2 496.6,1101.7 498.6,1103.3 500.5,1104.8 502.5,1106.3 504.5,1107.8 506.6,1109.2 508.6,1110.7 510.6,1112.1 512.7,1113.6 514.7,1115.0 516.8,1116.4 518.9,1117.8 521.0,1119.2 523.1,1120.5 525.2,1121.9 527.3,1123.2 529.4,1124.5 531.5,1125.8 533.7,1127.1 535.8,1128.4 538.0,1129.6 540.1,1130.9 542.3,1132.1 544.5,1133.3 546.7,1134.6 548.9,1135.7 551.1,1136.9 553.3,1138.1 555.5,1139.2 557.7,1140.4 560.0,1141.5 562.2,1142.6 564.5,1143.7 566.7,1144.7 569.0,1145.8 571.2,1146.9 573.5,1147.9 575.8,1148.9 578.1,1149.9 580.4,1150.9 582.7,1151.9 585.0,1152.9 587.3,1153.8 589.6,1154.7 591.9,1155.7 594.2,1156.6 596.6,1157.5 598.9,1158.4 601.3,1159.2 603.6,1160.1 605.9,1161.0 608.3,1161.8 610.7,1162.6 613.0,1163.4 615.4,1164.2 617.8,1165.0 620.1,1165.8 622.5,1166.6 624.9,1167.3 627.3,1168.1 629.7,1168.8 632.1,1169.5 634.5,1170.2 636.9,1170.9 639.3,1171.6 641.7,1172.3 644.1,1172.9 646.5,1173.6 648.9,1174.2 651.3,1174.9 653.7,1175.5 656.2,1176.1 658.6,1176.7 661.0,1177.3 663.4,1177.9 665.9,1178.5 668.3,1179.0 670.7,1179.6 673.2,1180.1 675.6,1180.7 678.1,1181.2 680.5,1181.7 682.9,1182.2 685.4,1182.7 687.8,1183.2 690.3,1183.7 692.7,1184.2 695.2,1184.7 697.6,1185.1 700.1,1185.6 702.6,1186.0 705.0,1186.5 707.5,1186.9 709.9,1187.3 712.4,1187.7 714.9,1188.2 717.3,1188.6 719.8,1189.0 722.3,1189.4 724.7,1189.7 727.2,1190.1 729.7,1190.5 732.2,1190.9 734.6,1191.2 737.1,1191.6 739.6,1191.9 742.0,1192.3 744.5,1192.6 747.0,1192.9 749.5,1193.2 752.0,1193.6 754.4,1193.9 756.9,1194.2 759.4,1194.5 761.9,1194.8 764.4,1195.1 766.8,1195.4 769.3,1195.6 771.8,1195.9 774.3,1196.2 776.8,1196.5 779.3,1196.7 781.7,1197.0 784.2,1197.2 786.7,1197.5 789.2,1197.7 791.7,1198.0 794.2,1198.2 796.7,1198.4 799.1,1198.7 801.6,1198.9 804.1,1199.1 806.6,1199.3 809.1,1199.5 811.6,1199.7 814.1,1200.0 816.6,1200.2 819.1,1200.4 821.5,1200.5 824.0,1200.7 826.5,1200.9 829.0,1201.1 831.5,1201.3 834.0,1201.5 836.5,1201.6 839.0,1201.8 841.5,1202.0 844.0,1202.2 846.5,1202.3 849.0,1202.5 851.5,1202.6 853.9,1202.8 856.4,1202.9 858.9,1203.1 861.4,1203.2 863.9,1203.4 866.4,1203.5 868.9,1203.7 871.4,1203.8 873.9,1203.9 876.4,1204.1 878.9,1204.2 881.4,1204.3 883.9,1204.5 886.4,1204.6 888.9,1204.7 891.4,1204.8 893.9,1204.9 896.4,1205.1 898.9,1205.2 901.3,1205.3 903.8,1205.4 906.3,1205.5 908.8,1205.6 911.3,1205.7 913.8,1205.8 916.3,1205.9 918.8,1206.0 921.3,1206.1 923.8,1206.2 926.3,1206.3 928.8,1206.4 931.3,1206.5 933.8,1206.6 936.3,1206.6 938.8,1206.7 941.3,1206.8 943.8,1206.9 946.3,1207.0 948.8,1207.1 951.3,1207.1 953.8,1207.2 956.3,1207.3 958.8,1207.4 961.3,1207.4 963.8,1207.5 966.3,1207.6 968.8,1207.6 971.3,1207.7 973.8,1207.8 976.3,1207.8 978.7,1207.9 981.2,1208.0 983.7,1208.0 986.2,1208.1 988.7,1208.2 991.2,1208.2 993.7,1208.3 996.2,1208.3 998.7,1208.4 1001.2,1208.4 1003.7,1208.5 1006.2,1208.5 1008.7,1208.6 1011.2,1208.6 1013.7,1208.7 1016.2,1208.7 1018.7,1208.8 1021.2,1208.8 1023.7,1208.9 1026.2,1208.9 1028.7,1209.0 1031.2,1209.0 1033.7,1209.1 1036.2,1209.1 1038.7,1209.2 1041.2,1209.2 1043.7,1209.2 1046.2,1209.3 1048.7,1209.3 1051.2,1209.4 1053.7,1209.4 1056.2,1209.4 1058.7,1209.5 1061.2,1209.5 1063.7,1209.5 1066.2,1209.6 1068.7,1209.6 1071.2,1209.6 1073.7,1209.7 1076.2,1209.7 1078.7,1209.7 1081.2,1209.8 1083.7,1209.8 1086.2,1209.8 1088.7,1209.9 1091.2,1209.9 1093.7,1209.9 1096.1,1209.9 1098.6,1210.0 1101.1,1210.0 1103.6,1210.0 1106.1,1210.0 1108.6,1210.1 1111.1,1210.1 1113.6,1210.1 1116.1,1210.1 1118.6,1210.2 1121.1,1210.2 1123.6,1210.2 1126.1,1210.2 1128.6,1210.3 1131.1,1210.3 1133.6,1210.3 1136.1,1210.3 1138.6,1210.3 1141.1,1210.4 1143.6,1210.4 1146.1,1210.4 1148.6,1210.4 1151.1,1210.4 1153.6,1210.5 1156.1,1210.5 1158.6,1210.5 1161.1,1210.5 1163.6,1210.5 1166.1,1210.5 1168.6,1210.6 1171.1,1210.6 1173.6,1210.6 1176.1,1210.6 1178.6,1210.6 1181.1,1210.6 1183.6,1210.7 1186.1,1210.7 1188.6,1210.7 1191.1,1210.7 1193.6,1210.7 1196.1,1210.7 1198.6,1210.7 1201.1,1210.8 1203.6,1210.8 1206.1,1210.8 1208.6,1210.8 1211.1,1210.8 1213.6,1210.8 1216.1,1210.8 1218.6,1210.8 1221.1,1210.9 1223.6,1210.9 1226.1,1210.9 1228.6,1210.9 1231.1,1210.9 1233.5,1210.9 1236.0,1210.9 1238.5,1210.9 1241.0,1210.9 1243.5,1211.0 1246.0,1211.0 1248.5,1211.0 1251.0,1211.0 1253.5,1211.0 1256.0,1211.0 1258.5,1211.0 1261.0,1211.0 1263.5,1211.0 1266.0,1211.0 1268.5,1211.0 1271.0,1211.0 1273.5,1211.1 1276.0,1211.1 1278.5,1211.1 1281.0,1211.1 1283.5,1211.1 1286.0,1211.1 1288.5,1211.1 1291.0,1211.1 1293.5,1211.1 1296.0,1211.1 1298.5,1211.1 1301.0,1211.1 1303.5,1211.1 1306.0,1211.1 1308.5,1211.2 1311.0,1211.2 1313.5,1211.2 1316.0,1211.2 1318.5,1211.2 1321.0,1211.2 1323.5,1211.2 1326.0,1211.2 1328.5,1211.2 1331.0,1211.2 1333.5,1211.2 1336.0,1211.2 1338.5,1211.2 1341.0,1211.2 1343.5,1211.2 1346.0,1211.2 1348.5,1211.2 1351.0,1211.2 1353.5,1211.2 1356.0,1211.3 1358.5,1211.3 1361.0,1211.3 1363.5,1211.3 1366.0,1211.3 1368.5,1211.3 1371.0,1211.3 1373.5,1211.3 1376.0,1211.3 1378.4,1211.3 1380.9,1211.3 1383.4,1211.3 1385.9,1211.3 1388.4,1211.3 1390.9,1211.3 1393.4,1211.3 1395.9,1211.3 1398.4,1211.3 1400.9,1211.3 1403.4,1211.3 1405.9,1211.3 1408.4,1211.3 1410.9,1211.3 1413.4,1211.3 1415.9,1211.3 1418.4,1211.3 1420.9,1211.3 1423.4,1211.3 1425.9,1211.3 1428.4,1211.4 1430.9,1211.4 1433.4,1211.4 1435.9,1211.4 1438.4,1211.4 1440.9,1211.4 1443.4,1211.4 1445.9,1211.4 1448.4,1211.4 1450.9,1211.4 1453.4,1211.4 1455.9,1211.4 1458.4,1211.4 1460.9,1211.4 1463.4,1211.4 1465.9,1211.4 1468.4,1211.4 1470.9,1211.4 1473.4,1211.4 1475.9,1211.4 1478.4,1211.4 1480.9,1211.4 1483.4,1211.4 1485.9,1211.4 1488.4,1211.4 1490.9,1211.4 1493.4,1211.4 1495.9,1211.4 1498.4,1211.4 1500.9,1211.4 1503.4,1211.4 1505.9,1211.4 1508.4,1211.4 1510.9,1211.4 1513.4,1211.4 1515.9,1211.4 1518.4,1211.4 1520.9,1211.4 1523.3,1211.4 1525.8,1211.4 1528.3,1211.4 1530.8,1211.4 1533.3,1211.4 1535.8,1211.4 1538.3,1211.4 1540.8,1211.4 1543.3,1211.4 1545.8,1211.4 1548.3,1211.4 1550.8,1211.4 1553.3,1211.4 1555.8,1211.4 1558.3,1211.4 1560.8,1211.4 1563.3,1211.4 1565.8,1211.4 1568.3,1211.4 1570.8,1211.4 1573.3,1211.4 1575.8,1211.4 1578.3,1211.4 1580.8,1211.4 1583.3,1211.5 1585.8,1211.5 1588.3,1211.5 1590.8,1211.5 1593.3,1211.5 1595.8,1211.5 1598.3,1211.5 1600.8,1211.5 1603.3,1211.5 1605.8,1211.5 1608.3,1211.5 1610.8,1211.5 1613.3,1211.5 1615.8,1211.5 1618.3,1211.5 1620.8,1211.5 1623.3,1211.5 1625.8,1211.5 1628.3,1211.5 1630.8,1211.5 1633.3,1211.5 1635.8,1211.5 1638.3,1211.5 1640.8,1211.5 1643.3,1211.5 1645.8,1211.5 1648.3,1211.5 1650.8,1211.5 1653.3,1211.5 1655.8,1211.5 1658.3,1211.5 1660.8,1211.5 1663.3,1211.5 1665.8,1211.5 1668.2,1211.5 1670.7,1211.5 1673.2,1211.5 1675.7,1211.5 1678.2,1211.5 1680.7,1211.5 1683.2,1211.5 1685.7,1211.5 1688.2,1211.5 1690.7,1211.5 1693.2,1211.5 1695.7,1211.5 1698.2,1211.5 1700.7,1211.5 1703.2,1211.5 1705.7,1211.5 1708.2,1211.5 1710.7,1211.5 1713.2,1211.5 1715.7,1211.5 1718.2,1211.5 1720.7,1211.5 1723.2,1211.5 1725.7,1211.5 1728.2,1211.5 1730.7,1211.5 1733.2,1211.5 1735.7,1211.5 1738.2,1211.5" stroke="#000000" stroke-dasharray="49.6 65.12"/>
</g>
<g stroke="#000" fill="none">
<line x1="147.2" y1="1211.5" x2="1742.8" y2="1211.5" stroke-width="3.3"/>
<line x1="149.2" y1="1213.2" x2="149.2" y2="224.1" stroke-width="4.0"/>
<path d="M228.6 1211.5v-12.3M308.1 1211.5v-12.3M387.6 1211.5v-12.3M467.0 1211.5v-19.6M546.5 1211.5v-12.3M625.9 1211.5v-12.3M705.3 1211.5v-12.3M784.8 1211.5v-19.6M864.2 1211.5v-12.3M943.7 1211.5v-12.3M1023.2 1211.5v-12.3M1102.6 1211.5v-19.6M1182.1 1211.5v-12.3M1261.5 1211.5v-12.3M1341.0 1211.5v-12.3M1420.4 1211.5v-19.6M1499.9 1211.5v-12.3M1579.3 1211.5v-12.3M1658.8 1211.5v-12.3M1738.2 1211.5v-19.6M149.2 1162.3h11.7M149.2 1113.2h11.7M149.2 1064.0h11.7M149.2 1014.9h18.7M149.2 965.8h11.7M149.2 916.6h11.7M149.2 867.5h11.7M149.2 818.3h18.7M149.2 769.1h11.7M149.2 720.0h11.7M149.2 670.9h11.7M149.2 621.7h18.7M149.2 572.5h11.7M149.2 523.4h11.7M149.2 474.2h11.7M149.2 425.1h18.7M149.2 375.9h11.7M149.2 326.8h11.7M149.2 277.6h11.7M149.2 228.5h18.7" stroke-width="3.5"/>
</g>
<g font-family='"Liberation Sans", Arial, Helvetica, sans-serif' font-size="59" fill="#000" stroke="#000" stroke-width="0.5">
<text transform="translate(467.7 1288.5) scale(.975 1)" text-anchor="middle">2</text>
<text transform="translate(785.5 1288.5) scale(.975 1)" text-anchor="middle">4</text>
<text transform="translate(1103.3 1288.5) scale(.975 1)" text-anchor="middle">6</text>
<text transform="translate(1421.1 1288.5) scale(.975 1)" text-anchor="middle">8</text>
<text transform="translate(1738.9 1288.5) scale(.975 1)" text-anchor="middle">10</text>
<text transform="translate(148.6 1288.5) scale(.975 1)" text-anchor="middle">0</text>
<text transform="translate(131.8 1231.5) scale(.975 1)" text-anchor="end">0.0</text>
<text transform="translate(131.8 1034.9) scale(.975 1)" text-anchor="end">0.2</text>
<text transform="translate(131.8 838.3) scale(.975 1)" text-anchor="end">0.4</text>
<text transform="translate(131.8 641.7) scale(.975 1)" text-anchor="end">0.6</text>
<text transform="translate(131.8 445.1) scale(.975 1)" text-anchor="end">0.8</text>
<text transform="translate(131.8 248.5) scale(.975 1)" text-anchor="end">1.0</text>
<text x="1783.2" y="1232.4"><tspan font-style="italic">γ</tspan>t</text>
<text x="148.2" y="178.0" text-anchor="middle" font-size="60.5">C(<tspan font-style="italic" dx="1.5">ρ</tspan><tspan font-size="43" dy="10.6">LR</tspan><tspan dy="-10.6">(t))</tspan></text>
</g>
<text transform="translate(943.7 94.9) scale(0.987 1.015)" text-anchor="middle" font-family='"Liberation Sans", Arial, Helvetica, sans-serif' font-size="72.5" fill="#000" stroke="#000" stroke-width="0.5">Markovian</text>
<g font-family='"Liberation Sans", Arial, Helvetica, sans-serif' font-size="50" fill="#000">
<line x1="1886.4" y1="465.4" x2="1928.6" y2="465.4" stroke="#5E81B5" stroke-width="9.0" stroke-linecap="square"/>
<text x="1960.4" y="483.3">I=1</text>
<line x1="1886.4" y1="561.4" x2="1928.6" y2="561.4" stroke="#E19C24" stroke-width="9.0" stroke-linecap="square" stroke-dasharray="12.2 22.715"/>
<text x="1960.4" y="579.3">I=0.90</text>
<line x1="1886.4" y1="656.5" x2="1928.6" y2="656.5" stroke="#8FB032" stroke-width="9.0" stroke-linecap="square" stroke-dasharray="5.2 19.97 19.7 19.97"/>
<text x="1960.4" y="674.4">I=0.75</text>
<line x1="1886.4" y1="751.5" x2="1928.6" y2="751.5" stroke="#EB6235" stroke-width="9.0" stroke-linecap="square" stroke-dasharray="5.2 19.74"/>
<text x="1960.4" y="769.4">I=0.50</text>
<line x1="1886.4" y1="847.5" x2="1928.6" y2="847.5" stroke="#000000" stroke-width="9.0" stroke-linecap="square" stroke-dasharray="49.6 65.12"/>
<text x="1960.4" y="865.4">I=0</text>
</g>
</g>
<g id="nonmarkovian">
<clipPath id="clipN500"><rect x="144.4" y="1625.4" width="1649.8" height="1014.6"/></clipPath>
<g clip-path="url(#clipN500)" fill="none" stroke-width="8.8" stroke-linecap="square" stroke-linejoin="round">
<line x1="174.4" y1="1655.4" x2="1764.2" y2="1655.4" stroke="#5E81B5" stroke-width="8.8"/>
<polyline points="174.4,1655.4 174.8,1655.4 176.9,1655.5 179.4,1655.8 181.8,1656.4 184.2,1657.1 186.5,1658.0 188.8,1659.0 191.0,1660.2 193.1,1661.5 195.2,1663.0 197.1,1664.5 199.0,1666.1 200.9,1667.8 202.7,1669.6 204.4,1671.4 206.0,1673.2 207.7,1675.1 209.2,1677.1 210.8,1679.1 212.3,1681.1 213.7,1683.1 215.1,1685.1 216.6,1687.2 217.9,1689.3 219.3,1691.4 220.7,1693.5 222.0,1695.6 223.4,1697.7 224.7,1699.8 226.0,1701.9 227.4,1704.0 228.8,1706.1 230.2,1708.1 231.6,1710.2 233.1,1712.2 234.6,1714.2 236.2,1716.1 237.9,1717.9 239.8,1719.6 241.7,1721.1 243.9,1722.4 246.3,1723.2 248.7,1723.4 251.2,1723.0 253.5,1722.1 255.7,1720.8 257.7,1719.3 259.5,1717.6 261.3,1715.9 263.0,1714.0 264.6,1712.1 266.2,1710.2 267.7,1708.2 269.3,1706.3 270.8,1704.3 272.3,1702.3 273.8,1700.3 275.4,1698.4 276.9,1696.4 278.5,1694.5 280.1,1692.5 281.7,1690.6 283.4,1688.8 285.1,1686.9 286.8,1685.2 288.6,1683.4 290.5,1681.7 292.4,1680.1 294.4,1678.6 296.4,1677.2 298.5,1675.8 300.7,1674.6 303.0,1673.6 305.3,1672.6 307.7,1671.9 310.1,1671.3 312.6,1670.9 315.0,1670.7 317.5,1670.8 320.0,1671.0 322.5,1671.4 324.9,1672.0 327.3,1672.8 329.6,1673.7 331.9,1674.8 334.1,1676.0 336.2,1677.3 338.3,1678.7 340.3,1680.1 342.2,1681.7 344.1,1683.3 346.0,1685.0 347.8,1686.7 349.6,1688.5 351.3,1690.3 353.0,1692.1 354.7,1693.9 356.4,1695.8 358.0,1697.7 359.6,1699.6 361.3,1701.5 362.9,1703.4 364.5,1705.3 366.2,1707.1 367.8,1709.0 369.5,1710.9 371.2,1712.7 373.0,1714.4 374.8,1716.1 376.7,1717.8 378.7,1719.3 380.8,1720.6 383.0,1721.8 385.3,1722.7 387.8,1723.3 390.3,1723.4 392.8,1723.2 395.2,1722.6 397.5,1721.7 399.7,1720.5 401.8,1719.2 403.9,1717.8 405.9,1716.2 407.8,1714.6 409.7,1713.0 411.5,1711.3 413.4,1709.6 415.2,1707.9 417.0,1706.2 418.9,1704.5 420.7,1702.8 422.6,1701.2 424.4,1699.5 426.4,1697.9 428.3,1696.4 430.3,1694.8 432.3,1693.4 434.4,1692.0 436.5,1690.7 438.7,1689.5 440.9,1688.4 443.2,1687.3 445.6,1686.5 448.0,1685.7 450.4,1685.2 452.8,1684.7 455.3,1684.5 457.8,1684.4 460.3,1684.5 462.8,1684.8 465.3,1685.2 467.7,1685.8 470.1,1686.6 472.4,1687.4 474.7,1688.4 477.0,1689.5 479.2,1690.7 481.3,1691.9 483.4,1693.3 485.5,1694.6 487.6,1696.1 489.6,1697.6 491.5,1699.1 493.5,1700.7 495.4,1702.3 497.3,1703.9 499.3,1705.5 501.2,1707.1 503.1,1708.7 505.0,1710.3 506.9,1711.9 508.9,1713.4 510.9,1714.9 512.9,1716.4 515.0,1717.8 517.1,1719.1 519.3,1720.3 521.6,1721.3 523.9,1722.2 526.3,1722.8 528.8,1723.3 531.3,1723.4 533.8,1723.3 536.3,1723.0 538.7,1722.4 541.1,1721.6 543.4,1720.7 545.7,1719.7 547.9,1718.5 550.1,1717.3 552.2,1716.0 554.3,1714.7 556.4,1713.3 558.5,1712.0 560.6,1710.6 562.7,1709.3 564.8,1707.9 566.9,1706.6 569.1,1705.3 571.2,1704.0 573.4,1702.9 575.7,1701.7 577.9,1700.6 580.2,1699.7 582.5,1698.8 584.9,1698.0 587.3,1697.3 589.7,1696.7 592.2,1696.2 594.7,1695.9 597.2,1695.7 599.7,1695.7 602.2,1695.8 604.6,1696.0 607.1,1696.4 609.6,1696.8 612.0,1697.4 614.4,1698.1 616.8,1698.9 619.1,1699.8 621.4,1700.8 623.7,1701.8 625.9,1702.9 628.1,1704.1 630.3,1705.2 632.5,1706.5 634.7,1707.7 636.8,1709.0 639.0,1710.3 641.1,1711.5 643.3,1712.8 645.4,1714.1 647.6,1715.3 649.8,1716.5 652.0,1717.6 654.3,1718.7 656.6,1719.7 658.9,1720.7 661.2,1721.5 663.6,1722.2 666.1,1722.7 668.6,1723.1 671.0,1723.4 673.5,1723.4 676.0,1723.3 678.5,1723.1 681.0,1722.6 683.4,1722.1 685.8,1721.4 688.2,1720.7 690.6,1719.9 692.9,1719.0 695.2,1718.0 697.5,1717.0 699.8,1716.0 702.1,1715.0 704.4,1714.0 706.6,1713.0 708.9,1712.0 711.2,1711.0 713.6,1710.1 715.9,1709.2 718.2,1708.4 720.6,1707.6 723.0,1706.9 725.4,1706.2 727.9,1705.7 730.3,1705.2 732.8,1704.8 735.3,1704.6 737.8,1704.4 740.3,1704.3 742.8,1704.3 745.3,1704.5 747.7,1704.7 750.2,1705.0 752.7,1705.4 755.1,1705.9 757.6,1706.5 760.0,1707.1 762.4,1707.8 764.8,1708.6 767.1,1709.4 769.5,1710.3 771.8,1711.2 774.1,1712.1 776.5,1713.0 778.8,1713.9 781.1,1714.9 783.4,1715.8 785.7,1716.7 788.0,1717.7 790.4,1718.5 792.7,1719.4 795.1,1720.1 797.5,1720.8 799.9,1721.5 802.4,1722.1 804.8,1722.5 807.3,1722.9 809.8,1723.2 812.3,1723.4 814.8,1723.4 817.2,1723.4 819.7,1723.2 822.2,1723.0 824.7,1722.6 827.2,1722.2 829.6,1721.7 832.0,1721.2 834.5,1720.5 836.9,1719.9 839.3,1719.2 841.7,1718.5 844.1,1717.8 846.5,1717.1 848.9,1716.4 851.3,1715.7 853.7,1715.0 856.1,1714.3 858.5,1713.7 860.9,1713.1 863.4,1712.6 865.8,1712.1 868.3,1711.7 870.8,1711.3 873.2,1711.0 875.7,1710.8 878.2,1710.7 880.7,1710.6 883.2,1710.6 885.7,1710.6 888.2,1710.7 890.7,1710.9 893.2,1711.2 895.7,1711.5 898.1,1711.9 900.6,1712.3 903.0,1712.8 905.5,1713.4 907.9,1713.9 910.3,1714.5 912.8,1715.1 915.2,1715.8 917.6,1716.4 920.0,1717.1 922.4,1717.8 924.8,1718.4 927.2,1719.1 929.7,1719.7 932.1,1720.3 934.5,1720.8 937.0,1721.3 939.4,1721.8 941.9,1722.2 944.4,1722.6 946.8,1722.9 949.3,1723.1 951.8,1723.3 954.3,1723.4 956.8,1723.4 959.3,1723.4 961.8,1723.3 964.3,1723.1 966.8,1722.9 969.3,1722.6 971.7,1722.2 974.2,1721.9 976.7,1721.5 979.1,1721.0 981.6,1720.6 984.0,1720.1 986.5,1719.6 988.9,1719.1 991.4,1718.6 993.9,1718.2 996.3,1717.7 998.8,1717.3 1001.2,1716.9 1003.7,1716.5 1006.2,1716.1 1008.7,1715.8 1011.1,1715.6 1013.6,1715.3 1016.1,1715.2 1018.6,1715.0 1021.1,1714.9 1023.6,1714.9 1026.1,1714.9 1028.6,1715.0 1031.1,1715.1 1033.6,1715.2 1036.1,1715.5 1038.6,1715.7 1041.1,1716.0 1043.5,1716.3 1046.0,1716.6 1048.5,1717.0 1050.9,1717.4 1053.4,1717.8 1055.9,1718.3 1058.3,1718.7 1060.8,1719.2 1063.2,1719.6 1065.7,1720.0 1068.2,1720.5 1070.6,1720.9 1073.1,1721.3 1075.6,1721.7 1078.0,1722.0 1080.5,1722.3 1083.0,1722.6 1085.5,1722.9 1088.0,1723.1 1090.5,1723.2 1093.0,1723.3 1095.5,1723.4 1098.0,1723.4 1100.5,1723.4 1103.0,1723.3 1105.5,1723.2 1108.0,1723.1 1110.4,1722.9 1112.9,1722.7 1115.4,1722.5 1117.9,1722.2 1120.4,1721.9 1122.9,1721.6 1125.3,1721.3 1127.8,1721.0 1130.3,1720.7 1132.8,1720.4 1135.3,1720.0 1137.7,1719.7 1140.2,1719.4 1142.7,1719.2 1145.2,1718.9 1147.7,1718.7 1150.2,1718.5 1152.7,1718.3 1155.2,1718.1 1157.6,1718.0 1160.1,1717.9 1162.6,1717.9 1165.1,1717.8 1167.6,1717.9 1170.1,1717.9 1172.6,1718.0 1175.1,1718.1 1177.6,1718.2 1180.1,1718.4 1182.6,1718.6 1185.1,1718.8 1187.6,1719.0 1190.1,1719.2 1192.6,1719.5 1195.0,1719.8 1197.5,1720.1 1200.0,1720.4 1202.5,1720.7 1205.0,1721.0 1207.4,1721.3 1209.9,1721.5 1212.4,1721.8 1214.9,1722.1 1217.4,1722.3 1219.9,1722.5 1222.4,1722.7 1224.9,1722.9 1227.4,1723.1 1229.8,1723.2 1232.3,1723.3 1234.8,1723.4 1237.3,1723.4 1239.8,1723.4 1242.3,1723.4 1244.8,1723.4 1247.3,1723.3 1249.8,1723.2 1252.3,1723.1 1254.8,1722.9 1257.3,1722.8 1259.8,1722.6 1262.3,1722.4 1264.8,1722.2 1267.3,1722.0 1269.8,1721.8 1272.3,1721.6 1274.7,1721.4 1277.2,1721.2 1279.7,1721.0 1282.2,1720.8 1284.7,1720.6 1287.2,1720.5 1289.7,1720.3 1292.2,1720.2 1294.7,1720.1 1297.2,1720.0 1299.7,1719.9 1302.2,1719.8 1304.7,1719.8 1307.2,1719.8 1309.7,1719.8 1312.2,1719.8 1314.7,1719.9 1317.2,1720.0 1319.7,1720.1 1322.2,1720.2 1324.7,1720.3 1327.2,1720.4 1329.6,1720.6 1332.1,1720.8 1334.6,1720.9 1337.1,1721.1 1339.6,1721.3 1342.1,1721.5 1344.6,1721.7 1347.1,1721.9 1349.6,1722.1 1352.1,1722.2 1354.6,1722.4 1357.1,1722.6 1359.6,1722.7 1362.0,1722.9 1364.5,1723.0 1367.0,1723.1 1369.5,1723.2 1372.0,1723.3 1374.5,1723.4 1377.0,1723.4 1379.5,1723.4 1382.0,1723.4 1384.5,1723.4 1387.0,1723.4 1389.5,1723.3 1392.0,1723.3 1394.5,1723.2 1397.0,1723.1 1399.5,1723.0 1402.0,1722.9 1404.5,1722.8 1407.0,1722.6 1409.5,1722.5 1412.0,1722.4 1414.5,1722.2 1417.0,1722.1 1419.5,1722.0 1422.0,1721.8 1424.5,1721.7 1427.0,1721.6 1429.5,1721.5 1431.9,1721.4 1434.4,1721.3 1436.9,1721.2 1439.4,1721.2 1441.9,1721.1 1444.4,1721.1 1446.9,1721.1 1449.4,1721.1 1451.9,1721.1 1454.4,1721.1 1456.9,1721.1 1459.4,1721.2 1461.9,1721.3 1464.4,1721.3 1466.9,1721.4 1469.4,1721.5 1471.9,1721.6 1474.4,1721.7 1476.9,1721.8 1479.4,1722.0 1481.9,1722.1 1484.4,1722.2 1486.9,1722.3 1489.4,1722.5 1491.9,1722.6 1494.4,1722.7 1496.9,1722.8 1499.4,1722.9 1501.9,1723.0 1504.4,1723.1 1506.9,1723.2 1509.4,1723.2 1511.9,1723.3 1514.3,1723.4 1516.8,1723.4 1519.3,1723.4 1521.8,1723.4 1524.3,1723.4 1526.8,1723.4 1529.3,1723.4 1531.8,1723.4 1534.3,1723.3 1536.8,1723.3 1539.3,1723.2 1541.8,1723.1 1544.3,1723.1 1546.8,1723.0 1549.3,1722.9 1551.8,1722.8 1554.3,1722.7 1556.8,1722.6 1559.3,1722.5 1561.8,1722.5 1564.3,1722.4 1566.8,1722.3 1569.3,1722.2 1571.8,1722.2 1574.3,1722.1 1576.8,1722.1 1579.3,1722.0 1581.8,1722.0 1584.3,1721.9 1586.8,1721.9 1589.3,1721.9 1591.8,1721.9 1594.3,1721.9 1596.8,1721.9 1599.3,1722.0 1601.8,1722.0 1604.3,1722.0 1606.8,1722.1 1609.3,1722.2 1611.8,1722.2 1614.3,1722.3 1616.8,1722.4 1619.3,1722.4 1621.8,1722.5 1624.3,1722.6 1626.8,1722.7 1629.2,1722.7 1631.7,1722.8 1634.2,1722.9 1636.7,1723.0 1639.2,1723.1 1641.7,1723.1 1644.2,1723.2 1646.7,1723.2 1649.2,1723.3 1651.7,1723.3 1654.2,1723.4 1656.7,1723.4 1659.2,1723.4 1661.7,1723.4 1664.2,1723.4 1666.7,1723.4 1669.2,1723.4 1671.7,1723.4 1674.2,1723.4 1676.7,1723.3 1679.2,1723.3 1681.7,1723.3 1684.2,1723.2 1686.7,1723.2 1689.2,1723.1 1691.7,1723.1 1694.2,1723.0 1696.7,1723.0 1699.2,1722.9 1701.7,1722.8 1704.2,1722.8 1706.7,1722.7 1709.2,1722.7 1711.7,1722.6 1714.2,1722.6 1716.7,1722.6 1719.2,1722.5 1721.7,1722.5 1724.2,1722.5 1726.7,1722.5 1729.2,1722.5 1731.7,1722.5 1734.2,1722.5 1736.7,1722.5 1739.2,1722.5 1741.7,1722.5 1744.2,1722.5 1746.7,1722.5 1749.2,1722.6 1751.7,1722.6 1754.2,1722.7 1756.7,1722.7 1759.2,1722.8 1761.7,1722.8 1764.2,1722.9" stroke="#E19C24" stroke-dasharray="12.2 22.715"/>
<polyline points="174.4,1655.4 174.8,1655.4 176.9,1655.7 179.2,1656.5 181.4,1657.7 183.4,1659.3 185.2,1661.0 186.9,1662.8 188.4,1664.8 189.9,1666.8 191.2,1668.9 192.5,1671.1 193.7,1673.2 194.9,1675.5 196.0,1677.7 197.1,1680.0 198.1,1682.2 199.1,1684.5 200.0,1686.9 200.9,1689.2 201.8,1691.5 202.7,1693.9 203.5,1696.2 204.4,1698.6 205.2,1700.9 206.0,1703.3 206.7,1705.7 207.5,1708.1 208.2,1710.5 208.9,1712.8 209.7,1715.2 210.4,1717.6 211.1,1720.0 211.7,1722.4 212.4,1724.9 213.1,1727.3 213.7,1729.7 214.4,1732.1 215.0,1734.5 215.7,1736.9 216.3,1739.3 216.9,1741.8 217.6,1744.2 218.2,1746.6 218.8,1749.0 219.4,1751.4 220.0,1753.9 220.6,1756.3 221.2,1758.7 221.8,1761.1 222.4,1763.6 223.0,1766.0 223.7,1768.4 224.3,1770.8 224.9,1773.3 225.5,1775.7 226.1,1778.1 226.7,1780.5 227.3,1782.9 228.0,1785.4 228.6,1787.8 229.2,1790.2 229.9,1792.6 230.6,1795.0 231.2,1797.4 231.9,1799.8 232.6,1802.2 233.3,1804.6 234.1,1807.0 234.9,1809.4 235.6,1811.8 236.5,1814.1 237.4,1816.5 238.3,1818.8 239.3,1821.1 240.4,1823.3 241.5,1825.5 242.9,1827.6 244.5,1829.5 246.5,1831.0 249.0,1831.4 251.3,1830.4 253.1,1828.7 254.6,1826.7 255.9,1824.6 257.1,1822.4 258.2,1820.2 259.2,1817.9 260.2,1815.6 261.1,1813.3 262.0,1810.9 262.9,1808.6 263.7,1806.2 264.5,1803.8 265.3,1801.5 266.1,1799.1 266.8,1796.7 267.6,1794.3 268.3,1791.9 269.1,1789.6 269.8,1787.2 270.5,1784.8 271.3,1782.4 272.0,1780.0 272.7,1777.6 273.4,1775.2 274.2,1772.8 274.9,1770.4 275.6,1768.0 276.4,1765.7 277.1,1763.3 277.9,1760.9 278.6,1758.5 279.4,1756.1 280.2,1753.8 281.0,1751.4 281.7,1749.0 282.6,1746.6 283.4,1744.3 284.2,1741.9 285.1,1739.6 285.9,1737.2 286.8,1734.9 287.7,1732.6 288.7,1730.3 289.6,1727.9 290.6,1725.7 291.6,1723.4 292.7,1721.1 293.8,1718.9 294.9,1716.6 296.1,1714.4 297.4,1712.3 298.7,1710.2 300.1,1708.1 301.6,1706.1 303.2,1704.1 304.9,1702.3 306.7,1700.7 308.8,1699.2 311.0,1698.0 313.3,1697.2 315.8,1696.9 318.3,1697.1 320.7,1697.8 322.9,1698.9 325.0,1700.3 326.9,1701.9 328.6,1703.7 330.3,1705.6 331.8,1707.6 333.3,1709.6 334.6,1711.7 335.9,1713.8 337.2,1716.0 338.4,1718.2 339.6,1720.4 340.7,1722.6 341.8,1724.9 342.8,1727.1 343.8,1729.4 344.8,1731.7 345.8,1734.0 346.7,1736.3 347.7,1738.6 348.6,1741.0 349.5,1743.3 350.4,1745.6 351.2,1748.0 352.1,1750.3 352.9,1752.7 353.8,1755.0 354.6,1757.4 355.4,1759.7 356.3,1762.1 357.1,1764.5 357.9,1766.8 358.7,1769.2 359.5,1771.6 360.3,1773.9 361.1,1776.3 361.9,1778.7 362.7,1781.0 363.5,1783.4 364.3,1785.8 365.1,1788.1 365.9,1790.5 366.8,1792.9 367.6,1795.2 368.5,1797.6 369.3,1799.9 370.2,1802.2 371.1,1804.6 372.0,1806.9 373.0,1809.2 373.9,1811.5 375.0,1813.8 376.0,1816.1 377.1,1818.3 378.3,1820.5 379.6,1822.7 380.9,1824.8 382.4,1826.8 384.1,1828.6 386.1,1830.1 388.3,1831.2 390.8,1831.4 393.2,1830.6 395.3,1829.2 397.1,1827.5 398.7,1825.6 400.2,1823.6 401.6,1821.5 402.9,1819.4 404.1,1817.2 405.2,1815.0 406.4,1812.8 407.5,1810.5 408.5,1808.3 409.6,1806.0 410.6,1803.7 411.6,1801.4 412.6,1799.1 413.6,1796.8 414.6,1794.5 415.6,1792.2 416.6,1789.9 417.5,1787.6 418.5,1785.3 419.5,1783.1 420.5,1780.8 421.5,1778.5 422.5,1776.2 423.5,1773.9 424.6,1771.6 425.6,1769.4 426.7,1767.1 427.8,1764.9 428.9,1762.6 430.1,1760.4 431.2,1758.2 432.4,1756.0 433.7,1753.8 435.0,1751.7 436.3,1749.6 437.7,1747.5 439.2,1745.5 440.7,1743.5 442.3,1741.6 444.0,1739.8 445.9,1738.1 447.8,1736.6 449.9,1735.2 452.2,1734.1 454.6,1733.4 457.0,1733.0 459.5,1733.2 462.0,1733.7 464.3,1734.6 466.5,1735.8 468.5,1737.3 470.4,1738.9 472.2,1740.6 473.9,1742.4 475.6,1744.3 477.1,1746.3 478.6,1748.3 480.0,1750.4 481.4,1752.5 482.7,1754.6 484.0,1756.7 485.2,1758.9 486.4,1761.1 487.6,1763.3 488.8,1765.5 490.0,1767.7 491.1,1769.9 492.2,1772.2 493.3,1774.4 494.4,1776.7 495.5,1778.9 496.5,1781.2 497.6,1783.4 498.7,1785.7 499.7,1788.0 500.8,1790.2 501.9,1792.5 503.0,1794.7 504.0,1797.0 505.1,1799.2 506.2,1801.5 507.3,1803.7 508.5,1806.0 509.6,1808.2 510.8,1810.4 512.0,1812.6 513.3,1814.7 514.6,1816.9 515.9,1819.0 517.3,1821.0 518.8,1823.0 520.4,1824.9 522.1,1826.8 524.0,1828.4 526.1,1829.8 528.4,1830.8 530.8,1831.4 533.3,1831.3 535.7,1830.6 537.9,1829.4 539.9,1828.0 541.8,1826.4 543.6,1824.6 545.3,1822.7 546.8,1820.8 548.3,1818.8 549.8,1816.8 551.2,1814.7 552.6,1812.6 554.0,1810.5 555.3,1808.4 556.6,1806.3 557.9,1804.2 559.2,1802.0 560.6,1799.9 561.9,1797.8 563.2,1795.7 564.5,1793.5 565.8,1791.4 567.2,1789.3 568.6,1787.2 570.0,1785.2 571.4,1783.1 572.9,1781.1 574.4,1779.1 575.9,1777.1 577.5,1775.2 579.2,1773.3 580.9,1771.5 582.7,1769.8 584.6,1768.2 586.6,1766.6 588.7,1765.3 590.9,1764.1 593.2,1763.2 595.6,1762.5 598.1,1762.2 600.6,1762.2 603.0,1762.5 605.4,1763.2 607.8,1764.1 610.0,1765.3 612.1,1766.6 614.1,1768.1 616.0,1769.7 617.8,1771.4 619.6,1773.2 621.3,1775.0 623.0,1776.9 624.6,1778.8 626.1,1780.7 627.7,1782.7 629.2,1784.7 630.6,1786.7 632.1,1788.8 633.5,1790.8 634.9,1792.9 636.3,1795.0 637.7,1797.0 639.1,1799.1 640.5,1801.2 641.9,1803.2 643.3,1805.3 644.7,1807.4 646.2,1809.4 647.6,1811.4 649.1,1813.5 650.6,1815.4 652.2,1817.4 653.8,1819.3 655.5,1821.2 657.2,1823.0 659.0,1824.7 660.9,1826.3 662.9,1827.8 665.0,1829.1 667.3,1830.2 669.7,1831.0 672.1,1831.4 674.6,1831.3 677.1,1830.9 679.5,1830.2 681.7,1829.1 683.9,1827.9 686.0,1826.5 687.9,1824.9 689.8,1823.3 691.7,1821.6 693.5,1819.9 695.2,1818.1 697.0,1816.3 698.7,1814.5 700.3,1812.6 702.0,1810.8 703.7,1808.9 705.4,1807.1 707.1,1805.2 708.8,1803.4 710.5,1801.6 712.2,1799.8 714.0,1798.1 715.8,1796.3 717.7,1794.7 719.6,1793.1 721.6,1791.5 723.6,1790.1 725.7,1788.7 727.9,1787.5 730.1,1786.4 732.4,1785.5 734.8,1784.7 737.3,1784.3 739.8,1784.0 742.3,1784.0 744.8,1784.3 747.2,1784.8 749.6,1785.5 751.9,1786.5 754.2,1787.5 756.4,1788.7 758.5,1790.1 760.5,1791.5 762.5,1793.0 764.5,1794.5 766.4,1796.2 768.3,1797.8 770.1,1799.5 771.9,1801.2 773.7,1803.0 775.5,1804.7 777.2,1806.5 779.0,1808.3 780.7,1810.1 782.5,1811.8 784.3,1813.6 786.1,1815.4 787.9,1817.1 789.7,1818.8 791.6,1820.4 793.5,1822.0 795.4,1823.6 797.5,1825.1 799.5,1826.5 801.7,1827.7 803.9,1828.9 806.2,1829.8 808.6,1830.6 811.1,1831.1 813.5,1831.4 816.0,1831.4 818.5,1831.1 821.0,1830.6 823.4,1829.9 825.7,1829.1 828.0,1828.0 830.2,1826.9 832.4,1825.6 834.5,1824.3 836.6,1823.0 838.7,1821.5 840.7,1820.1 842.7,1818.6 844.7,1817.1 846.7,1815.7 848.8,1814.2 850.8,1812.7 852.8,1811.3 854.9,1809.9 857.0,1808.5 859.1,1807.2 861.3,1805.9 863.5,1804.7 865.7,1803.6 868.0,1802.6 870.3,1801.8 872.7,1801.0 875.1,1800.4 877.6,1800.0 880.1,1799.7 882.6,1799.7 885.1,1799.7 887.6,1800.0 890.0,1800.5 892.5,1801.1 894.8,1801.8 897.2,1802.6 899.5,1803.6 901.8,1804.7 904.0,1805.8 906.2,1807.0 908.3,1808.3 910.5,1809.6 912.6,1810.9 914.7,1812.3 916.7,1813.7 918.8,1815.1 920.9,1816.5 923.0,1817.9 925.0,1819.3 927.1,1820.6 929.2,1822.0 931.4,1823.3 933.5,1824.5 935.7,1825.7 938.0,1826.8 940.3,1827.8 942.6,1828.8 944.9,1829.6 947.3,1830.3 949.8,1830.8 952.3,1831.2 954.7,1831.4 957.2,1831.4 959.7,1831.3 962.2,1831.0 964.7,1830.5 967.1,1830.0 969.5,1829.3 971.9,1828.5 974.2,1827.6 976.5,1826.7 978.8,1825.7 981.1,1824.6 983.4,1823.6 985.6,1822.5 987.9,1821.4 990.1,1820.3 992.4,1819.2 994.6,1818.2 996.9,1817.1 999.2,1816.1 1001.5,1815.2 1003.9,1814.3 1006.2,1813.5 1008.6,1812.8 1011.0,1812.1 1013.5,1811.6 1015.9,1811.1 1018.4,1810.8 1020.9,1810.6 1023.4,1810.5 1025.9,1810.5 1028.4,1810.6 1030.9,1810.9 1033.3,1811.3 1035.8,1811.7 1038.2,1812.3 1040.6,1813.0 1043.0,1813.7 1045.4,1814.5 1047.7,1815.4 1050.1,1816.3 1052.4,1817.3 1054.7,1818.2 1057.0,1819.2 1059.2,1820.3 1061.5,1821.3 1063.8,1822.3 1066.1,1823.3 1068.4,1824.3 1070.7,1825.2 1073.0,1826.2 1075.4,1827.0 1077.7,1827.9 1080.1,1828.6 1082.5,1829.3 1084.9,1829.9 1087.4,1830.4 1089.8,1830.8 1092.3,1831.1 1094.8,1831.3 1097.3,1831.4 1099.8,1831.4 1102.3,1831.3 1104.8,1831.0 1107.3,1830.7 1109.7,1830.3 1112.2,1829.8 1114.6,1829.3 1117.1,1828.7 1119.5,1828.0 1121.9,1827.3 1124.3,1826.6 1126.6,1825.8 1129.0,1825.1 1131.4,1824.3 1133.8,1823.6 1136.2,1822.8 1138.6,1822.1 1141.0,1821.4 1143.4,1820.8 1145.8,1820.2 1148.3,1819.7 1150.7,1819.2 1153.2,1818.7 1155.7,1818.4 1158.1,1818.1 1160.6,1817.9 1163.1,1817.8 1165.6,1817.7 1168.1,1817.8 1170.6,1817.9 1173.1,1818.1 1175.6,1818.3 1178.1,1818.7 1180.5,1819.1 1183.0,1819.6 1185.4,1820.1 1187.9,1820.6 1190.3,1821.2 1192.7,1821.9 1195.1,1822.5 1197.5,1823.2 1199.9,1823.9 1202.3,1824.6 1204.7,1825.3 1207.1,1826.0 1209.5,1826.7 1211.9,1827.3 1214.4,1828.0 1216.8,1828.5 1219.2,1829.1 1221.7,1829.6 1224.1,1830.0 1226.6,1830.4 1229.1,1830.8 1231.6,1831.0 1234.1,1831.2 1236.6,1831.3 1239.1,1831.4 1241.6,1831.4 1244.1,1831.3 1246.5,1831.2 1249.0,1830.9 1251.5,1830.7 1254.0,1830.4 1256.5,1830.0 1258.9,1829.6 1261.4,1829.2 1263.9,1828.7 1266.3,1828.2 1268.8,1827.7 1271.2,1827.2 1273.7,1826.7 1276.1,1826.2 1278.6,1825.7 1281.0,1825.3 1283.5,1824.8 1285.9,1824.4 1288.4,1824.0 1290.9,1823.7 1293.4,1823.3 1295.8,1823.1 1298.3,1822.9 1300.8,1822.7 1303.3,1822.6 1305.8,1822.5 1308.3,1822.5 1310.8,1822.6 1313.3,1822.7 1315.8,1822.8 1318.3,1823.0 1320.8,1823.3 1323.3,1823.6 1325.8,1823.9 1328.2,1824.2 1330.7,1824.6 1333.2,1825.0 1335.6,1825.5 1338.1,1825.9 1340.5,1826.4 1343.0,1826.8 1345.4,1827.3 1347.9,1827.8 1350.4,1828.2 1352.8,1828.7 1355.3,1829.1 1357.8,1829.5 1360.2,1829.8 1362.7,1830.2 1365.2,1830.5 1367.7,1830.7 1370.2,1831.0 1372.7,1831.1 1375.1,1831.3 1377.6,1831.4 1380.1,1831.4 1382.6,1831.4 1385.1,1831.4 1387.6,1831.3 1390.1,1831.1 1392.6,1831.0 1395.1,1830.8 1397.6,1830.5 1400.1,1830.3 1402.6,1830.0 1405.1,1829.7 1407.5,1829.4 1410.0,1829.1 1412.5,1828.8 1415.0,1828.4 1417.5,1828.1 1419.9,1827.8 1422.4,1827.5 1424.9,1827.2 1427.4,1826.9 1429.9,1826.6 1432.4,1826.4 1434.8,1826.2 1437.3,1826.0 1439.8,1825.9 1442.3,1825.8 1444.8,1825.7 1447.3,1825.7 1449.8,1825.7 1452.3,1825.7 1454.8,1825.8 1457.3,1825.9 1459.8,1826.0 1462.3,1826.1 1464.8,1826.3 1467.3,1826.5 1469.8,1826.8 1472.3,1827.0 1474.8,1827.3 1477.2,1827.6 1479.7,1827.9 1482.2,1828.2 1484.7,1828.5 1487.2,1828.8 1489.6,1829.1 1492.1,1829.4 1494.6,1829.7 1497.1,1829.9 1499.6,1830.2 1502.1,1830.4 1504.6,1830.6 1507.0,1830.8 1509.5,1831.0 1512.0,1831.1 1514.5,1831.2 1517.0,1831.3 1519.5,1831.4 1522.0,1831.4 1524.5,1831.4 1527.0,1831.4 1529.5,1831.3 1532.0,1831.2 1534.5,1831.1 1537.0,1831.0 1539.5,1830.8 1542.0,1830.7 1544.5,1830.5 1547.0,1830.3 1549.5,1830.1 1552.0,1829.9 1554.5,1829.7 1557.0,1829.5 1559.4,1829.2 1561.9,1829.0 1564.4,1828.8 1566.9,1828.7 1569.4,1828.5 1571.9,1828.3 1574.4,1828.2 1576.9,1828.0 1579.4,1827.9 1581.9,1827.8 1584.4,1827.8 1586.9,1827.7 1589.4,1827.7 1591.9,1827.7 1594.4,1827.7 1596.9,1827.8 1599.4,1827.8 1601.9,1827.9 1604.4,1828.0 1606.9,1828.2 1609.4,1828.3 1611.9,1828.5 1614.4,1828.6 1616.8,1828.8 1619.3,1829.0 1621.8,1829.2 1624.3,1829.4 1626.8,1829.6 1629.3,1829.8 1631.8,1830.0 1634.3,1830.1 1636.8,1830.3 1639.3,1830.5 1641.8,1830.7 1644.3,1830.8 1646.8,1830.9 1649.3,1831.1 1651.8,1831.2 1654.3,1831.2 1656.8,1831.3 1659.3,1831.4 1661.8,1831.4 1664.2,1831.4 1666.7,1831.4 1669.2,1831.4 1671.7,1831.3 1674.2,1831.3 1676.7,1831.2 1679.2,1831.1 1681.7,1831.0 1684.2,1830.9 1686.7,1830.8 1689.2,1830.7 1691.7,1830.5 1694.2,1830.4 1696.7,1830.3 1699.2,1830.1 1701.7,1830.0 1704.2,1829.9 1706.7,1829.7 1709.2,1829.6 1711.7,1829.5 1714.2,1829.4 1716.7,1829.3 1719.2,1829.2 1721.7,1829.2 1724.2,1829.1 1726.7,1829.1 1729.2,1829.0 1731.7,1829.0 1734.2,1829.0 1736.7,1829.1 1739.2,1829.1 1741.7,1829.1 1744.2,1829.2 1746.7,1829.3 1749.2,1829.3 1751.7,1829.4 1754.2,1829.5 1756.7,1829.6 1759.2,1829.8 1761.7,1829.9 1764.2,1830.0" stroke="#8FB032" stroke-dasharray="5.2 19.97 19.7 19.97"/>
<polyline points="174.4,1655.4 174.8,1655.4 176.8,1656.0 178.8,1657.5 180.4,1659.4 181.8,1661.5 183.0,1663.7 184.1,1665.9 185.1,1668.2 186.1,1670.5 187.0,1672.9 187.8,1675.2 188.6,1677.6 189.3,1680.0 190.0,1682.4 190.7,1684.8 191.4,1687.2 192.0,1689.6 192.6,1692.0 193.2,1694.5 193.8,1696.9 194.4,1699.3 194.9,1701.8 195.4,1704.2 196.0,1706.7 196.5,1709.1 197.0,1711.6 197.5,1714.0 198.0,1716.5 198.4,1718.9 198.9,1721.4 199.3,1723.8 199.8,1726.3 200.2,1728.8 200.7,1731.2 201.1,1733.7 201.5,1736.1 201.9,1738.6 202.4,1741.1 202.8,1743.5 203.2,1746.0 203.6,1748.5 204.0,1750.9 204.3,1753.4 204.7,1755.9 205.1,1758.4 205.5,1760.8 205.9,1763.3 206.2,1765.8 206.6,1768.2 206.9,1770.7 207.3,1773.2 207.7,1775.7 208.0,1778.1 208.4,1780.6 208.7,1783.1 209.1,1785.6 209.4,1788.0 209.7,1790.5 210.1,1793.0 210.4,1795.5 210.7,1797.9 211.1,1800.4 211.4,1802.9 211.7,1805.4 212.1,1807.9 212.4,1810.3 212.7,1812.8 213.0,1815.3 213.3,1817.8 213.7,1820.3 214.0,1822.7 214.3,1825.2 214.6,1827.7 214.9,1830.2 215.2,1832.7 215.6,1835.1 215.9,1837.6 216.2,1840.1 216.5,1842.6 216.8,1845.1 217.1,1847.5 217.4,1850.0 217.7,1852.5 218.0,1855.0 218.3,1857.5 218.6,1859.9 218.9,1862.4 219.2,1864.9 219.5,1867.4 219.8,1869.9 220.1,1872.4 220.4,1874.8 220.7,1877.3 221.0,1879.8 221.4,1882.3 221.7,1884.8 222.0,1887.2 222.3,1889.7 222.6,1892.2 222.9,1894.7 223.2,1897.2 223.5,1899.6 223.8,1902.1 224.1,1904.6 224.4,1907.1 224.7,1909.6 225.0,1912.1 225.3,1914.5 225.7,1917.0 226.0,1919.5 226.3,1922.0 226.6,1924.5 226.9,1926.9 227.3,1929.4 227.6,1931.9 227.9,1934.4 228.2,1936.8 228.6,1939.3 228.9,1941.8 229.2,1944.3 229.6,1946.8 229.9,1949.2 230.3,1951.7 230.6,1954.2 231.0,1956.7 231.3,1959.1 231.7,1961.6 232.1,1964.1 232.4,1966.5 232.8,1969.0 233.2,1971.5 233.6,1974.0 234.0,1976.4 234.4,1978.9 234.8,1981.4 235.2,1983.8 235.7,1986.3 236.1,1988.7 236.6,1991.2 237.1,1993.7 237.6,1996.1 238.1,1998.5 238.6,2001.0 239.2,2003.4 239.8,2005.9 240.4,2008.3 241.1,2010.7 241.8,2013.1 242.7,2015.4 243.6,2017.7 244.7,2020.0 246.2,2022.0 248.3,2023.2 250.5,2022.2 252.0,2020.2 253.2,2018.0 254.2,2015.7 255.0,2013.3 255.8,2011.0 256.5,2008.6 257.2,2006.1 257.8,2003.7 258.4,2001.3 259.0,1998.9 259.5,1996.4 260.1,1994.0 260.6,1991.5 261.1,1989.1 261.6,1986.6 262.1,1984.2 262.5,1981.7 263.0,1979.3 263.4,1976.8 263.9,1974.4 264.3,1971.9 264.8,1969.4 265.2,1967.0 265.6,1964.5 266.0,1962.0 266.4,1959.6 266.8,1957.1 267.2,1954.6 267.6,1952.2 268.0,1949.7 268.4,1947.2 268.8,1944.8 269.2,1942.3 269.6,1939.8 270.0,1937.4 270.3,1934.9 270.7,1932.4 271.1,1929.9 271.5,1927.5 271.9,1925.0 272.2,1922.5 272.6,1920.1 273.0,1917.6 273.4,1915.1 273.7,1912.6 274.1,1910.2 274.5,1907.7 274.9,1905.2 275.3,1902.8 275.6,1900.3 276.0,1897.8 276.4,1895.3 276.8,1892.9 277.1,1890.4 277.5,1887.9 277.9,1885.5 278.3,1883.0 278.7,1880.5 279.1,1878.1 279.5,1875.6 279.8,1873.1 280.2,1870.6 280.6,1868.2 281.0,1865.7 281.4,1863.2 281.8,1860.8 282.2,1858.3 282.7,1855.8 283.1,1853.4 283.5,1850.9 283.9,1848.4 284.3,1846.0 284.7,1843.5 285.2,1841.1 285.6,1838.6 286.1,1836.1 286.5,1833.7 286.9,1831.2 287.4,1828.8 287.9,1826.3 288.3,1823.8 288.8,1821.4 289.3,1818.9 289.8,1816.5 290.3,1814.0 290.8,1811.6 291.3,1809.1 291.8,1806.7 292.3,1804.3 292.9,1801.8 293.4,1799.4 294.0,1796.9 294.6,1794.5 295.2,1792.1 295.8,1789.7 296.4,1787.2 297.1,1784.8 297.7,1782.4 298.4,1780.0 299.1,1777.6 299.9,1775.2 300.6,1772.8 301.4,1770.5 302.3,1768.1 303.2,1765.8 304.1,1763.5 305.2,1761.2 306.3,1759.0 307.5,1756.8 308.9,1754.7 310.5,1752.8 312.3,1751.1 314.5,1750.0 317.0,1749.9 319.3,1750.8 321.2,1752.4 322.9,1754.3 324.3,1756.3 325.6,1758.5 326.7,1760.7 327.8,1763.0 328.8,1765.2 329.7,1767.6 330.6,1769.9 331.5,1772.3 332.3,1774.6 333.0,1777.0 333.8,1779.4 334.5,1781.8 335.2,1784.2 335.9,1786.6 336.5,1789.0 337.2,1791.4 337.8,1793.8 338.4,1796.3 339.0,1798.7 339.6,1801.1 340.1,1803.6 340.7,1806.0 341.3,1808.4 341.8,1810.9 342.3,1813.3 342.9,1815.8 343.4,1818.2 343.9,1820.7 344.4,1823.1 344.9,1825.5 345.4,1828.0 345.9,1830.5 346.4,1832.9 346.8,1835.4 347.3,1837.8 347.8,1840.3 348.2,1842.7 348.7,1845.2 349.1,1847.6 349.6,1850.1 350.0,1852.6 350.5,1855.0 350.9,1857.5 351.4,1859.9 351.8,1862.4 352.2,1864.9 352.7,1867.3 353.1,1869.8 353.5,1872.3 354.0,1874.7 354.4,1877.2 354.8,1879.6 355.2,1882.1 355.6,1884.6 356.1,1887.0 356.5,1889.5 356.9,1892.0 357.3,1894.4 357.7,1896.9 358.1,1899.4 358.6,1901.8 359.0,1904.3 359.4,1906.8 359.8,1909.2 360.2,1911.7 360.6,1914.2 361.1,1916.6 361.5,1919.1 361.9,1921.5 362.3,1924.0 362.7,1926.5 363.2,1928.9 363.6,1931.4 364.0,1933.9 364.4,1936.3 364.9,1938.8 365.3,1941.3 365.7,1943.7 366.2,1946.2 366.6,1948.6 367.1,1951.1 367.5,1953.6 368.0,1956.0 368.4,1958.5 368.9,1960.9 369.3,1963.4 369.8,1965.8 370.3,1968.3 370.8,1970.7 371.3,1973.2 371.8,1975.6 372.3,1978.1 372.8,1980.5 373.3,1983.0 373.9,1985.4 374.5,1987.9 375.0,1990.3 375.6,1992.7 376.2,1995.1 376.9,1997.6 377.5,2000.0 378.2,2002.4 378.9,2004.8 379.7,2007.2 380.5,2009.5 381.3,2011.9 382.3,2014.2 383.3,2016.5 384.5,2018.6 386.0,2020.7 387.8,2022.4 390.1,2023.2 392.4,2022.3 394.2,2020.6 395.6,2018.6 396.9,2016.4 398.0,2014.1 398.9,2011.8 399.9,2009.5 400.7,2007.2 401.5,2004.8 402.3,2002.4 403.0,2000.0 403.7,1997.6 404.4,1995.2 405.1,1992.8 405.7,1990.4 406.4,1988.0 407.0,1985.6 407.6,1983.2 408.2,1980.7 408.8,1978.3 409.4,1975.9 410.0,1973.4 410.5,1971.0 411.1,1968.6 411.6,1966.1 412.2,1963.7 412.7,1961.2 413.3,1958.8 413.8,1956.4 414.4,1953.9 414.9,1951.5 415.4,1949.0 416.0,1946.6 416.5,1944.2 417.0,1941.7 417.5,1939.3 418.1,1936.8 418.6,1934.4 419.1,1931.9 419.7,1929.5 420.2,1927.1 420.7,1924.6 421.3,1922.2 421.8,1919.7 422.4,1917.3 422.9,1914.8 423.4,1912.4 424.0,1910.0 424.6,1907.5 425.1,1905.1 425.7,1902.7 426.3,1900.2 426.8,1897.8 427.4,1895.4 428.0,1892.9 428.6,1890.5 429.2,1888.1 429.8,1885.7 430.4,1883.2 431.1,1880.8 431.7,1878.4 432.4,1876.0 433.0,1873.6 433.7,1871.2 434.4,1868.8 435.1,1866.4 435.9,1864.0 436.6,1861.6 437.4,1859.2 438.2,1856.9 439.0,1854.5 439.9,1852.1 440.8,1849.8 441.7,1847.5 442.7,1845.2 443.7,1842.9 444.8,1840.7 446.0,1838.5 447.2,1836.3 448.6,1834.2 450.2,1832.3 451.9,1830.5 453.9,1829.0 456.3,1828.1 458.7,1828.1 461.1,1828.9 463.1,1830.3 464.9,1832.0 466.5,1834.0 468.0,1836.0 469.3,1838.1 470.5,1840.3 471.6,1842.6 472.7,1844.8 473.7,1847.1 474.7,1849.4 475.6,1851.7 476.5,1854.1 477.3,1856.4 478.2,1858.8 479.0,1861.1 479.8,1863.5 480.5,1865.9 481.3,1868.3 482.0,1870.7 482.7,1873.0 483.4,1875.4 484.1,1877.8 484.8,1880.3 485.5,1882.7 486.1,1885.1 486.8,1887.5 487.4,1889.9 488.1,1892.3 488.7,1894.7 489.3,1897.2 490.0,1899.6 490.6,1902.0 491.2,1904.4 491.8,1906.9 492.4,1909.3 493.0,1911.7 493.6,1914.1 494.2,1916.6 494.7,1919.0 495.3,1921.4 495.9,1923.9 496.5,1926.3 497.1,1928.7 497.7,1931.2 498.2,1933.6 498.8,1936.0 499.4,1938.4 500.0,1940.9 500.6,1943.3 501.1,1945.7 501.7,1948.2 502.3,1950.6 502.9,1953.0 503.5,1955.5 504.1,1957.9 504.7,1960.3 505.3,1962.7 505.9,1965.2 506.5,1967.6 507.2,1970.0 507.8,1972.4 508.4,1974.8 509.1,1977.3 509.7,1979.7 510.4,1982.1 511.1,1984.5 511.8,1986.9 512.5,1989.3 513.2,1991.7 514.0,1994.1 514.8,1996.4 515.6,1998.8 516.4,2001.2 517.3,2003.5 518.2,2005.8 519.1,2008.1 520.1,2010.4 521.2,2012.7 522.4,2014.9 523.7,2017.0 525.1,2019.1 526.8,2020.9 528.8,2022.4 531.2,2023.2 533.6,2022.8 535.8,2021.6 537.6,2019.9 539.2,2017.9 540.6,2015.9 541.9,2013.7 543.0,2011.5 544.1,2009.3 545.2,2007.0 546.2,2004.7 547.2,2002.4 548.1,2000.1 549.0,1997.8 549.9,1995.4 550.7,1993.1 551.6,1990.7 552.4,1988.4 553.2,1986.0 554.0,1983.6 554.8,1981.3 555.6,1978.9 556.3,1976.5 557.1,1974.1 557.9,1971.7 558.6,1969.4 559.4,1967.0 560.1,1964.6 560.9,1962.2 561.7,1959.8 562.4,1957.4 563.2,1955.1 563.9,1952.7 564.7,1950.3 565.5,1947.9 566.2,1945.5 567.0,1943.2 567.8,1940.8 568.6,1938.4 569.4,1936.1 570.2,1933.7 571.1,1931.3 571.9,1929.0 572.8,1926.6 573.6,1924.3 574.5,1922.0 575.4,1919.6 576.4,1917.3 577.3,1915.0 578.3,1912.7 579.4,1910.4 580.4,1908.2 581.6,1905.9 582.7,1903.7 583.9,1901.6 585.2,1899.4 586.6,1897.3 588.1,1895.3 589.7,1893.4 591.5,1891.7 593.5,1890.1 595.7,1889.0 598.1,1888.3 600.6,1888.3 603.0,1889.0 605.2,1890.2 607.1,1891.7 608.9,1893.5 610.6,1895.4 612.1,1897.4 613.5,1899.4 614.8,1901.6 616.1,1903.7 617.3,1905.9 618.4,1908.1 619.5,1910.4 620.6,1912.6 621.6,1914.9 622.6,1917.2 623.6,1919.5 624.6,1921.8 625.5,1924.1 626.4,1926.4 627.3,1928.8 628.2,1931.1 629.1,1933.4 630.0,1935.8 630.8,1938.1 631.7,1940.5 632.5,1942.8 633.4,1945.2 634.2,1947.6 635.0,1949.9 635.9,1952.3 636.7,1954.6 637.5,1957.0 638.3,1959.4 639.1,1961.7 639.9,1964.1 640.8,1966.4 641.6,1968.8 642.4,1971.2 643.3,1973.5 644.1,1975.9 644.9,1978.2 645.8,1980.6 646.7,1982.9 647.6,1985.3 648.4,1987.6 649.4,1989.9 650.3,1992.2 651.2,1994.6 652.2,1996.9 653.2,1999.1 654.2,2001.4 655.3,2003.7 656.4,2005.9 657.6,2008.1 658.8,2010.3 660.1,2012.5 661.4,2014.6 662.9,2016.6 664.5,2018.5 666.3,2020.2 668.3,2021.7 670.6,2022.8 673.1,2023.2 675.5,2022.9 677.8,2021.9 679.9,2020.5 681.8,2018.9 683.5,2017.1 685.1,2015.1 686.6,2013.1 688.0,2011.0 689.3,2008.9 690.6,2006.8 691.8,2004.6 693.0,2002.4 694.2,2000.2 695.3,1998.0 696.5,1995.8 697.6,1993.5 698.7,1991.3 699.8,1989.0 700.8,1986.8 701.9,1984.5 703.0,1982.2 704.0,1980.0 705.1,1977.7 706.2,1975.5 707.2,1973.2 708.3,1971.0 709.4,1968.7 710.5,1966.5 711.7,1964.2 712.8,1962.0 714.0,1959.8 715.1,1957.6 716.4,1955.4 717.6,1953.2 718.9,1951.1 720.2,1949.0 721.6,1946.9 723.0,1944.8 724.5,1942.8 726.1,1940.9 727.8,1939.0 729.6,1937.3 731.5,1935.7 733.5,1934.3 735.8,1933.2 738.2,1932.4 740.6,1932.1 743.1,1932.3 745.5,1933.0 747.8,1934.0 749.9,1935.4 751.9,1936.9 753.7,1938.6 755.4,1940.4 757.1,1942.3 758.6,1944.3 760.1,1946.3 761.5,1948.3 762.9,1950.4 764.3,1952.5 765.6,1954.6 766.9,1956.8 768.1,1959.0 769.3,1961.1 770.5,1963.3 771.7,1965.5 772.9,1967.7 774.1,1969.9 775.2,1972.2 776.4,1974.4 777.5,1976.6 778.7,1978.8 779.8,1981.0 780.9,1983.3 782.1,1985.5 783.3,1987.7 784.4,1989.9 785.6,1992.1 786.8,1994.3 788.0,1996.5 789.2,1998.7 790.5,2000.8 791.8,2003.0 793.1,2005.1 794.5,2007.2 795.9,2009.2 797.4,2011.3 798.9,2013.2 800.6,2015.1 802.3,2016.9 804.1,2018.6 806.1,2020.1 808.2,2021.4 810.5,2022.4 813.0,2023.0 815.4,2023.2 817.9,2022.8 820.3,2022.1 822.5,2020.9 824.6,2019.6 826.6,2018.1 828.5,2016.4 830.3,2014.7 832.0,2012.9 833.6,2011.0 835.2,2009.1 836.8,2007.1 838.3,2005.1 839.8,2003.1 841.3,2001.1 842.8,1999.1 844.2,1997.0 845.7,1995.0 847.1,1993.0 848.6,1990.9 850.1,1988.9 851.5,1986.9 853.0,1984.9 854.5,1982.9 856.1,1980.9 857.7,1979.0 859.3,1977.1 860.9,1975.2 862.7,1973.4 864.4,1971.7 866.3,1970.0 868.2,1968.4 870.2,1966.9 872.4,1965.6 874.6,1964.5 877.0,1963.6 879.4,1963.0 881.9,1962.8 884.4,1962.9 886.8,1963.3 889.2,1964.0 891.5,1965.0 893.7,1966.2 895.8,1967.6 897.8,1969.1 899.7,1970.6 901.6,1972.3 903.4,1974.1 905.1,1975.9 906.8,1977.7 908.5,1979.6 910.1,1981.5 911.7,1983.4 913.3,1985.3 914.8,1987.3 916.4,1989.3 917.9,1991.2 919.4,1993.2 921.0,1995.2 922.5,1997.2 924.1,1999.1 925.6,2001.1 927.2,2003.0 928.8,2004.9 930.4,2006.8 932.1,2008.7 933.8,2010.5 935.5,2012.3 937.4,2014.0 939.2,2015.7 941.2,2017.3 943.2,2018.7 945.3,2020.0 947.6,2021.2 949.9,2022.1 952.3,2022.7 954.8,2023.1 957.3,2023.2 959.7,2022.9 962.2,2022.4 964.6,2021.6 966.9,2020.6 969.1,2019.5 971.2,2018.2 973.3,2016.8 975.3,2015.3 977.3,2013.8 979.2,2012.2 981.1,2010.5 983.0,2008.9 984.8,2007.2 986.7,2005.5 988.5,2003.8 990.4,2002.1 992.2,2000.5 994.1,1998.8 996.0,1997.2 997.9,1995.5 999.8,1994.0 1001.8,1992.5 1003.8,1991.0 1005.9,1989.6 1008.1,1988.3 1010.3,1987.1 1012.5,1986.1 1014.9,1985.2 1017.2,1984.5 1019.7,1984.0 1022.2,1983.7 1024.7,1983.6 1027.2,1983.8 1029.6,1984.2 1032.1,1984.8 1034.4,1985.5 1036.7,1986.5 1039.0,1987.6 1041.2,1988.8 1043.3,1990.1 1045.4,1991.4 1047.5,1992.9 1049.5,1994.3 1051.5,1995.9 1053.4,1997.4 1055.4,1999.0 1057.3,2000.6 1059.2,2002.2 1061.1,2003.8 1063.0,2005.4 1064.9,2007.0 1066.9,2008.6 1068.8,2010.2 1070.8,2011.7 1072.8,2013.2 1074.8,2014.7 1076.9,2016.0 1079.1,2017.4 1081.2,2018.6 1083.5,2019.7 1085.8,2020.7 1088.1,2021.6 1090.5,2022.2 1093.0,2022.8 1095.4,2023.1 1097.9,2023.2 1100.4,2023.1 1102.9,2022.8 1105.4,2022.4 1107.8,2021.7 1110.2,2021.0 1112.5,2020.1 1114.8,2019.1 1117.1,2018.0 1119.3,2016.9 1121.5,2015.7 1123.7,2014.5 1125.8,2013.2 1128.0,2012.0 1130.1,2010.7 1132.3,2009.4 1134.4,2008.1 1136.6,2006.9 1138.8,2005.7 1141.0,2004.5 1143.2,2003.4 1145.5,2002.3 1147.8,2001.3 1150.1,2000.4 1152.5,1999.6 1154.9,1998.9 1157.3,1998.3 1159.8,1997.9 1162.2,1997.6 1164.7,1997.5 1167.2,1997.5 1169.7,1997.6 1172.2,1998.0 1174.7,1998.4 1177.1,1999.0 1179.5,1999.7 1181.9,2000.5 1184.2,2001.4 1186.5,2002.4 1188.8,2003.4 1191.0,2004.5 1193.3,2005.6 1195.5,2006.8 1197.7,2007.9 1199.9,2009.1 1202.1,2010.3 1204.3,2011.5 1206.5,2012.7 1208.7,2013.9 1210.9,2015.0 1213.1,2016.2 1215.4,2017.2 1217.7,2018.2 1220.0,2019.2 1222.3,2020.1 1224.7,2020.8 1227.1,2021.5 1229.5,2022.1 1232.0,2022.6 1234.5,2022.9 1237.0,2023.1 1239.5,2023.2 1242.0,2023.1 1244.5,2023.0 1246.9,2022.7 1249.4,2022.3 1251.9,2021.8 1254.3,2021.2 1256.7,2020.5 1259.1,2019.8 1261.5,2019.0 1263.8,2018.1 1266.2,2017.3 1268.5,2016.4 1270.8,2015.5 1273.2,2014.6 1275.5,2013.7 1277.8,2012.8 1280.2,2012.0 1282.6,2011.2 1284.9,2010.4 1287.3,2009.6 1289.7,2009.0 1292.1,2008.4 1294.6,2007.8 1297.1,2007.4 1299.5,2007.0 1302.0,2006.8 1304.5,2006.6 1307.0,2006.5 1309.5,2006.6 1312.0,2006.7 1314.5,2006.9 1317.0,2007.3 1319.4,2007.7 1321.9,2008.2 1324.3,2008.7 1326.7,2009.4 1329.1,2010.0 1331.5,2010.8 1333.9,2011.5 1336.3,2012.3 1338.7,2013.1 1341.0,2014.0 1343.4,2014.8 1345.7,2015.6 1348.1,2016.5 1350.4,2017.3 1352.8,2018.1 1355.2,2018.8 1357.6,2019.5 1360.0,2020.2 1362.4,2020.8 1364.9,2021.4 1367.3,2021.9 1369.8,2022.3 1372.3,2022.6 1374.7,2022.9 1377.2,2023.1 1379.7,2023.2 1382.2,2023.2 1384.7,2023.1 1387.2,2023.0 1389.7,2022.7 1392.2,2022.4 1394.7,2022.1 1397.1,2021.7 1399.6,2021.2 1402.0,2020.7 1404.5,2020.2 1406.9,2019.6 1409.3,2019.0 1411.8,2018.4 1414.2,2017.8 1416.6,2017.2 1419.1,2016.6 1421.5,2016.0 1423.9,2015.5 1426.4,2015.0 1428.8,2014.5 1431.3,2014.0 1433.8,2013.6 1436.2,2013.3 1438.7,2013.0 1441.2,2012.8 1443.7,2012.6 1446.2,2012.5 1448.7,2012.5 1451.2,2012.5 1453.7,2012.6 1456.2,2012.7 1458.7,2012.9 1461.2,2013.2 1463.6,2013.5 1466.1,2013.9 1468.6,2014.3 1471.0,2014.8 1473.5,2015.3 1475.9,2015.8 1478.4,2016.3 1480.8,2016.8 1483.3,2017.4 1485.7,2018.0 1488.1,2018.5 1490.6,2019.1 1493.0,2019.6 1495.5,2020.1 1497.9,2020.6 1500.4,2021.1 1502.8,2021.5 1505.3,2021.9 1507.8,2022.2 1510.3,2022.5 1512.7,2022.7 1515.2,2022.9 1517.7,2023.1 1520.2,2023.2 1522.7,2023.2 1525.2,2023.2 1527.7,2023.1 1530.2,2023.0 1532.7,2022.8 1535.2,2022.6 1537.7,2022.3 1540.2,2022.1 1542.7,2021.7 1545.1,2021.4 1547.6,2021.0 1550.1,2020.7 1552.6,2020.3 1555.0,2019.9 1557.5,2019.5 1560.0,2019.1 1562.4,2018.7 1564.9,2018.3 1567.4,2018.0 1569.9,2017.7 1572.3,2017.4 1574.8,2017.1 1577.3,2016.9 1579.8,2016.7 1582.3,2016.5 1584.8,2016.4 1587.3,2016.3 1589.8,2016.3 1592.3,2016.3 1594.8,2016.3 1597.3,2016.4 1599.8,2016.6 1602.3,2016.7 1604.8,2016.9 1607.3,2017.2 1609.8,2017.4 1612.2,2017.7 1614.7,2018.0 1617.2,2018.4 1619.7,2018.7 1622.1,2019.1 1624.6,2019.4 1627.1,2019.8 1629.6,2020.2 1632.0,2020.5 1634.5,2020.9 1637.0,2021.2 1639.5,2021.5 1642.0,2021.8 1644.4,2022.1 1646.9,2022.3 1649.4,2022.6 1651.9,2022.7 1654.4,2022.9 1656.9,2023.0 1659.4,2023.1 1661.9,2023.2 1664.4,2023.2 1666.9,2023.2 1669.4,2023.1 1671.9,2023.0 1674.4,2022.9 1676.9,2022.8 1679.4,2022.6 1681.9,2022.5 1684.4,2022.2 1686.9,2022.0 1689.3,2021.8 1691.8,2021.5 1694.3,2021.3 1696.8,2021.0 1699.3,2020.8 1701.8,2020.5 1704.3,2020.3 1706.8,2020.1 1709.3,2019.8 1711.7,2019.6 1714.2,2019.4 1716.7,2019.3 1719.2,2019.1 1721.7,2019.0 1724.2,2018.9 1726.7,2018.8 1729.2,2018.8 1731.7,2018.8 1734.2,2018.8 1736.7,2018.8 1739.2,2018.9 1741.7,2018.9 1744.2,2019.1 1746.7,2019.2 1749.2,2019.3 1751.7,2019.5 1754.2,2019.7 1756.7,2019.9 1759.2,2020.1 1761.7,2020.4 1764.2,2020.6" stroke="#EB6235" stroke-dasharray="5.2 19.74"/>
<polyline points="174.4,1655.4 174.8,1655.4 176.2,1657.0 177.2,1659.3 178.0,1661.6 178.6,1664.0 179.2,1666.5 179.7,1668.9 180.2,1671.4 180.6,1673.8 181.0,1676.3 181.4,1678.8 181.8,1681.3 182.1,1683.7 182.4,1686.2 182.8,1688.7 183.1,1691.2 183.4,1693.6 183.7,1696.1 183.9,1698.6 184.2,1701.1 184.5,1703.6 184.8,1706.1 185.0,1708.6 185.3,1711.0 185.5,1713.5 185.8,1716.0 186.0,1718.5 186.2,1721.0 186.5,1723.5 186.7,1726.0 186.9,1728.5 187.1,1730.9 187.3,1733.4 187.5,1735.9 187.8,1738.4 188.0,1740.9 188.2,1743.4 188.4,1745.9 188.6,1748.4 188.8,1750.9 189.0,1753.4 189.1,1755.9 189.3,1758.3 189.5,1760.8 189.7,1763.3 189.9,1765.8 190.1,1768.3 190.3,1770.8 190.4,1773.3 190.6,1775.8 190.8,1778.3 191.0,1780.8 191.1,1783.3 191.3,1785.8 191.5,1788.3 191.6,1790.8 191.8,1793.2 192.0,1795.7 192.2,1798.2 192.3,1800.7 192.5,1803.2 192.6,1805.7 192.8,1808.2 193.0,1810.7 193.1,1813.2 193.3,1815.7 193.4,1818.2 193.6,1820.7 193.7,1823.2 193.9,1825.7 194.1,1828.2 194.2,1830.7 194.4,1833.2 194.5,1835.6 194.7,1838.1 194.8,1840.6 195.0,1843.1 195.1,1845.6 195.3,1848.1 195.4,1850.6 195.5,1853.1 195.7,1855.6 195.8,1858.1 196.0,1860.6 196.1,1863.1 196.3,1865.6 196.4,1868.1 196.6,1870.6 196.7,1873.1 196.8,1875.6 197.0,1878.1 197.1,1880.6 197.3,1883.1 197.4,1885.5 197.5,1888.0 197.7,1890.5 197.8,1893.0 197.9,1895.5 198.1,1898.0 198.2,1900.5 198.3,1903.0 198.5,1905.5 198.6,1908.0 198.7,1910.5 198.9,1913.0 199.0,1915.5 199.1,1918.0 199.3,1920.5 199.4,1923.0 199.5,1925.5 199.7,1928.0 199.8,1930.5 199.9,1933.0 200.1,1935.5 200.2,1938.0 200.3,1940.4 200.5,1942.9 200.6,1945.4 200.7,1947.9 200.8,1950.4 201.0,1952.9 201.1,1955.4 201.2,1957.9 201.4,1960.4 201.5,1962.9 201.6,1965.4 201.7,1967.9 201.9,1970.4 202.0,1972.9 202.1,1975.4 202.2,1977.9 202.4,1980.4 202.5,1982.9 202.6,1985.4 202.7,1987.9 202.9,1990.4 203.0,1992.9 203.1,1995.4 203.2,1997.9 203.4,2000.4 203.5,2002.8 203.6,2005.3 203.7,2007.8 203.8,2010.3 204.0,2012.8 204.1,2015.3 204.2,2017.8 204.3,2020.3 204.5,2022.8 204.6,2025.3 204.7,2027.8 204.8,2030.3 204.9,2032.8 205.1,2035.3 205.2,2037.8 205.3,2040.3 205.4,2042.8 205.6,2045.3 205.7,2047.8 205.8,2050.3 205.9,2052.8 206.0,2055.3 206.2,2057.8 206.3,2060.3 206.4,2062.8 206.5,2065.3 206.6,2067.7 206.8,2070.2 206.9,2072.7 207.0,2075.2 207.1,2077.7 207.2,2080.2 207.4,2082.7 207.5,2085.2 207.6,2087.7 207.7,2090.2 207.8,2092.7 207.9,2095.2 208.1,2097.7 208.2,2100.2 208.3,2102.7 208.4,2105.2 208.5,2107.7 208.7,2110.2 208.8,2112.7 208.9,2115.2 209.0,2117.7 209.1,2120.2 209.3,2122.7 209.4,2125.2 209.5,2127.7 209.6,2130.2 209.7,2132.7 209.9,2135.2 210.0,2137.6 210.1,2140.1 210.2,2142.6 210.3,2145.1 210.4,2147.6 210.6,2150.1 210.7,2152.6 210.8,2155.1 210.9,2157.6 211.0,2160.1 211.2,2162.6 211.3,2165.1 211.4,2167.6 211.5,2170.1 211.6,2172.6 211.8,2175.1 211.9,2177.6 212.0,2180.1 212.1,2182.6 212.2,2185.1 212.4,2187.6 212.5,2190.1 212.6,2192.6 212.7,2195.1 212.8,2197.6 213.0,2200.1 213.1,2202.6 213.2,2205.0 213.3,2207.5 213.4,2210.0 213.6,2212.5 213.7,2215.0 213.8,2217.5 213.9,2220.0 214.0,2222.5 214.2,2225.0 214.3,2227.5 214.4,2230.0 214.5,2232.5 214.6,2235.0 214.8,2237.5 214.9,2240.0 215.0,2242.5 215.1,2245.0 215.3,2247.5 215.4,2250.0 215.5,2252.5 215.6,2255.0 215.7,2257.5 215.9,2260.0 216.0,2262.5 216.1,2265.0 216.2,2267.5 216.4,2269.9 216.5,2272.4 216.6,2274.9 216.7,2277.4 216.9,2279.9 217.0,2282.4 217.1,2284.9 217.2,2287.4 217.4,2289.9 217.5,2292.4 217.6,2294.9 217.7,2297.4 217.9,2299.9 218.0,2302.4 218.1,2304.9 218.2,2307.4 218.4,2309.9 218.5,2312.4 218.6,2314.9 218.8,2317.4 218.9,2319.9 219.0,2322.4 219.1,2324.9 219.3,2327.4 219.4,2329.9 219.5,2332.3 219.7,2334.8 219.8,2337.3 219.9,2339.8 220.1,2342.3 220.2,2344.8 220.3,2347.3 220.4,2349.8 220.6,2352.3 220.7,2354.8 220.8,2357.3 221.0,2359.8 221.1,2362.3 221.3,2364.8 221.4,2367.3 221.5,2369.8 221.7,2372.3 221.8,2374.8 221.9,2377.3 222.1,2379.8 222.2,2382.3 222.3,2384.8 222.5,2387.2 222.6,2389.7 222.8,2392.2 222.9,2394.7 223.0,2397.2 223.2,2399.7 223.3,2402.2 223.5,2404.7 223.6,2407.2 223.7,2409.7 223.9,2412.2 224.0,2414.7 224.2,2417.2 224.3,2419.7 224.5,2422.2 224.6,2424.7 224.8,2427.2 224.9,2429.7 225.1,2432.2 225.2,2434.7 225.4,2437.1 225.5,2439.6 225.7,2442.1 225.8,2444.6 226.0,2447.1 226.1,2449.6 226.3,2452.1 226.4,2454.6 226.6,2457.1 226.8,2459.6 226.9,2462.1 227.1,2464.6 227.2,2467.1 227.4,2469.6 227.6,2472.1 227.7,2474.6 227.9,2477.1 228.0,2479.6 228.2,2482.0 228.4,2484.5 228.5,2487.0 228.7,2489.5 228.9,2492.0 229.1,2494.5 229.2,2497.0 229.4,2499.5 229.6,2502.0 229.8,2504.5 229.9,2507.0 230.1,2509.5 230.3,2512.0 230.5,2514.5 230.7,2516.9 230.9,2519.4 231.1,2521.9 231.2,2524.4 231.4,2526.9 231.6,2529.4 231.8,2531.9 232.0,2534.4 232.2,2536.9 232.4,2539.4 232.6,2541.9 232.8,2544.4 233.1,2546.8 233.3,2549.3 233.5,2551.8 233.7,2554.3 233.9,2556.8 234.1,2559.3 234.4,2561.8 234.6,2564.3 234.8,2566.8 235.1,2569.2 235.3,2571.7 235.6,2574.2 235.8,2576.7 236.1,2579.2 236.3,2581.7 236.6,2584.2 236.9,2586.6 237.2,2589.1 237.5,2591.6 237.8,2594.1 238.1,2596.6 238.4,2599.0 238.7,2601.5 239.0,2604.0 239.4,2606.5 239.7,2609.0 240.1,2611.4 240.5,2613.9 240.9,2616.4 241.3,2618.8 241.8,2621.3 242.3,2623.7 242.8,2626.2 243.4,2628.6 244.0,2631.0 244.8,2633.4 245.8,2635.7 247.1,2637.8 249.4,2638.0 250.9,2636.1 251.9,2633.8 252.7,2631.4 253.4,2629.0 254.0,2626.6 254.6,2624.2 255.1,2621.7 255.6,2619.3 256.0,2616.8 256.4,2614.3 256.9,2611.9 257.3,2609.4 257.6,2606.9 258.0,2604.5 258.4,2602.0 258.7,2599.5 259.0,2597.0 259.4,2594.6 259.7,2592.1 260.0,2589.6 260.3,2587.1 260.6,2584.6 260.9,2582.2 261.2,2579.7 261.4,2577.2 261.7,2574.7 262.0,2572.2 262.3,2569.7 262.5,2567.3 262.8,2564.8 263.0,2562.3 263.3,2559.8 263.5,2557.3 263.8,2554.8 264.0,2552.3 264.3,2549.9 264.5,2547.4 264.7,2544.9 265.0,2542.4 265.2,2539.9 265.4,2537.4 265.7,2534.9 265.9,2532.4 266.1,2529.9 266.3,2527.5 266.5,2525.0 266.8,2522.5 267.0,2520.0 267.2,2517.5 267.4,2515.0 267.6,2512.5 267.8,2510.0 268.0,2507.5 268.2,2505.0 268.4,2502.6 268.6,2500.1 268.8,2497.6 269.0,2495.1 269.2,2492.6 269.4,2490.1 269.6,2487.6 269.8,2485.1 270.0,2482.6 270.2,2480.1 270.4,2477.6 270.6,2475.1 270.8,2472.7 271.0,2470.2 271.2,2467.7 271.4,2465.2 271.6,2462.7 271.7,2460.2 271.9,2457.7 272.1,2455.2 272.3,2452.7 272.5,2450.2 272.7,2447.7 272.8,2445.2 273.0,2442.8 273.2,2440.3 273.4,2437.8 273.6,2435.3 273.8,2432.8 273.9,2430.3 274.1,2427.8 274.3,2425.3 274.5,2422.8 274.7,2420.3 274.8,2417.8 275.0,2415.3 275.2,2412.8 275.4,2410.3 275.5,2407.9 275.7,2405.4 275.9,2402.9 276.1,2400.4 276.2,2397.9 276.4,2395.4 276.6,2392.9 276.8,2390.4 276.9,2387.9 277.1,2385.4 277.3,2382.9 277.5,2380.4 277.6,2377.9 277.8,2375.4 278.0,2372.9 278.1,2370.5 278.3,2368.0 278.5,2365.5 278.7,2363.0 278.8,2360.5 279.0,2358.0 279.2,2355.5 279.3,2353.0 279.5,2350.5 279.7,2348.0 279.9,2345.5 280.0,2343.0 280.2,2340.5 280.4,2338.0 280.5,2335.5 280.7,2333.1 280.9,2330.6 281.1,2328.1 281.2,2325.6 281.4,2323.1 281.6,2320.6 281.7,2318.1 281.9,2315.6 282.1,2313.1 282.3,2310.6 282.4,2308.1 282.6,2305.6 282.8,2303.1 282.9,2300.6 283.1,2298.2 283.3,2295.7 283.5,2293.2 283.6,2290.7 283.8,2288.2 284.0,2285.7 284.2,2283.2 284.3,2280.7 284.5,2278.2 284.7,2275.7 284.8,2273.2 285.0,2270.7 285.2,2268.2 285.4,2265.7 285.5,2263.2 285.7,2260.8 285.9,2258.3 286.1,2255.8 286.2,2253.3 286.4,2250.8 286.6,2248.3 286.8,2245.8 287.0,2243.3 287.1,2240.8 287.3,2238.3 287.5,2235.8 287.7,2233.3 287.9,2230.8 288.0,2228.3 288.2,2225.9 288.4,2223.4 288.6,2220.9 288.8,2218.4 288.9,2215.9 289.1,2213.4 289.3,2210.9 289.5,2208.4 289.7,2205.9 289.9,2203.4 290.1,2200.9 290.3,2198.4 290.4,2195.9 290.6,2193.5 290.8,2191.0 291.0,2188.5 291.2,2186.0 291.4,2183.5 291.6,2181.0 291.8,2178.5 292.0,2176.0 292.2,2173.5 292.4,2171.0 292.6,2168.5 292.8,2166.0 293.0,2163.6 293.2,2161.1 293.4,2158.6 293.6,2156.1 293.8,2153.6 294.0,2151.1 294.2,2148.6 294.4,2146.1 294.6,2143.6 294.8,2141.1 295.1,2138.7 295.3,2136.2 295.5,2133.7 295.7,2131.2 295.9,2128.7 296.1,2126.2 296.4,2123.7 296.6,2121.2 296.8,2118.7 297.1,2116.2 297.3,2113.8 297.5,2111.3 297.8,2108.8 298.0,2106.3 298.2,2103.8 298.5,2101.3 298.7,2098.8 299.0,2096.3 299.2,2093.9 299.5,2091.4 299.8,2088.9 300.0,2086.4 300.3,2083.9 300.6,2081.4 300.8,2079.0 301.1,2076.5 301.4,2074.0 301.7,2071.5 302.0,2069.0 302.3,2066.5 302.6,2064.1 302.9,2061.6 303.2,2059.1 303.5,2056.6 303.9,2054.1 304.2,2051.7 304.6,2049.2 304.9,2046.7 305.3,2044.3 305.7,2041.8 306.1,2039.3 306.5,2036.9 306.9,2034.4 307.4,2031.9 307.8,2029.5 308.3,2027.0 308.9,2024.6 309.4,2022.2 310.1,2019.7 310.8,2017.3 311.5,2015.0 312.5,2012.6 313.7,2010.4 315.5,2008.8 317.7,2009.6 319.1,2011.7 320.1,2014.0 321.0,2016.3 321.7,2018.7 322.4,2021.1 323.0,2023.5 323.5,2026.0 324.0,2028.4 324.5,2030.9 325.0,2033.3 325.5,2035.8 325.9,2038.2 326.3,2040.7 326.7,2043.2 327.1,2045.6 327.5,2048.1 327.8,2050.6 328.2,2053.1 328.5,2055.5 328.9,2058.0 329.2,2060.5 329.5,2063.0 329.8,2065.4 330.1,2067.9 330.4,2070.4 330.7,2072.9 331.0,2075.4 331.3,2077.9 331.6,2080.3 331.9,2082.8 332.2,2085.3 332.4,2087.8 332.7,2090.3 333.0,2092.8 333.2,2095.2 333.5,2097.7 333.8,2100.2 334.0,2102.7 334.3,2105.2 334.5,2107.7 334.8,2110.2 335.0,2112.6 335.3,2115.1 335.5,2117.6 335.7,2120.1 336.0,2122.6 336.2,2125.1 336.4,2127.6 336.7,2130.1 336.9,2132.6 337.1,2135.0 337.4,2137.5 337.6,2140.0 337.8,2142.5 338.0,2145.0 338.2,2147.5 338.5,2150.0 338.7,2152.5 338.9,2155.0 339.1,2157.4 339.3,2159.9 339.5,2162.4 339.8,2164.9 340.0,2167.4 340.2,2169.9 340.4,2172.4 340.6,2174.9 340.8,2177.4 341.0,2179.9 341.2,2182.3 341.4,2184.8 341.6,2187.3 341.8,2189.8 342.0,2192.3 342.2,2194.8 342.4,2197.3 342.6,2199.8 342.8,2202.3 343.0,2204.8 343.2,2207.3 343.4,2209.8 343.6,2212.2 343.8,2214.7 344.0,2217.2 344.2,2219.7 344.4,2222.2 344.6,2224.7 344.8,2227.2 345.0,2229.7 345.2,2232.2 345.4,2234.7 345.5,2237.2 345.7,2239.7 345.9,2242.1 346.1,2244.6 346.3,2247.1 346.5,2249.6 346.7,2252.1 346.9,2254.6 347.1,2257.1 347.3,2259.6 347.4,2262.1 347.6,2264.6 347.8,2267.1 348.0,2269.6 348.2,2272.0 348.4,2274.5 348.6,2277.0 348.7,2279.5 348.9,2282.0 349.1,2284.5 349.3,2287.0 349.5,2289.5 349.7,2292.0 349.9,2294.5 350.0,2297.0 350.2,2299.5 350.4,2302.0 350.6,2304.4 350.8,2306.9 351.0,2309.4 351.2,2311.9 351.3,2314.4 351.5,2316.9 351.7,2319.4 351.9,2321.9 352.1,2324.4 352.3,2326.9 352.5,2329.4 352.6,2331.9 352.8,2334.4 353.0,2336.8 353.2,2339.3 353.4,2341.8 353.6,2344.3 353.8,2346.8 353.9,2349.3 354.1,2351.8 354.3,2354.3 354.5,2356.8 354.7,2359.3 354.9,2361.8 355.1,2364.3 355.3,2366.8 355.4,2369.2 355.6,2371.7 355.8,2374.2 356.0,2376.7 356.2,2379.2 356.4,2381.7 356.6,2384.2 356.8,2386.7 357.0,2389.2 357.2,2391.7 357.3,2394.2 357.5,2396.7 357.7,2399.1 357.9,2401.6 358.1,2404.1 358.3,2406.6 358.5,2409.1 358.7,2411.6 358.9,2414.1 359.1,2416.6 359.3,2419.1 359.5,2421.6 359.7,2424.1 359.9,2426.6 360.1,2429.0 360.3,2431.5 360.5,2434.0 360.7,2436.5 360.9,2439.0 361.1,2441.5 361.3,2444.0 361.5,2446.5 361.7,2449.0 361.9,2451.5 362.1,2454.0 362.3,2456.4 362.5,2458.9 362.7,2461.4 362.9,2463.9 363.1,2466.4 363.4,2468.9 363.6,2471.4 363.8,2473.9 364.0,2476.4 364.2,2478.9 364.4,2481.3 364.6,2483.8 364.9,2486.3 365.1,2488.8 365.3,2491.3 365.5,2493.8 365.8,2496.3 366.0,2498.8 366.2,2501.3 366.4,2503.7 366.7,2506.2 366.9,2508.7 367.1,2511.2 367.4,2513.7 367.6,2516.2 367.9,2518.7 368.1,2521.2 368.3,2523.7 368.6,2526.1 368.8,2528.6 369.1,2531.1 369.3,2533.6 369.6,2536.1 369.9,2538.6 370.1,2541.1 370.4,2543.5 370.7,2546.0 370.9,2548.5 371.2,2551.0 371.5,2553.5 371.8,2556.0 372.0,2558.4 372.3,2560.9 372.6,2563.4 372.9,2565.9 373.2,2568.4 373.5,2570.8 373.8,2573.3 374.2,2575.8 374.5,2578.3 374.8,2580.8 375.1,2583.2 375.5,2585.7 375.8,2588.2 376.2,2590.7 376.6,2593.1 376.9,2595.6 377.3,2598.1 377.7,2600.5 378.1,2603.0 378.5,2605.5 379.0,2607.9 379.4,2610.4 379.9,2612.8 380.4,2615.3 380.9,2617.7 381.5,2620.2 382.1,2622.6 382.7,2625.0 383.4,2627.4 384.2,2629.8 385.0,2632.2 386.0,2634.4 387.3,2636.6 389.2,2638.2 391.5,2637.9 393.2,2636.0 394.4,2633.8 395.4,2631.5 396.2,2629.2 397.0,2626.8 397.7,2624.4 398.3,2622.0 398.9,2619.6 399.5,2617.1 400.1,2614.7 400.6,2612.2 401.1,2609.8 401.6,2607.3 402.0,2604.9 402.5,2602.4 402.9,2600.0 403.4,2597.5 403.8,2595.0 404.2,2592.6 404.6,2590.1 405.0,2587.6 405.4,2585.2 405.7,2582.7 406.1,2580.2 406.5,2577.8 406.8,2575.3 407.2,2572.8 407.5,2570.3 407.9,2567.9 408.2,2565.4 408.5,2562.9 408.9,2560.4 409.2,2557.9 409.5,2555.5 409.8,2553.0 410.2,2550.5 410.5,2548.0 410.8,2545.6 411.1,2543.1 411.4,2540.6 411.7,2538.1 412.0,2535.6 412.3,2533.1 412.6,2530.7 412.9,2528.2 413.2,2525.7 413.5,2523.2 413.8,2520.7 414.1,2518.3 414.3,2515.8 414.6,2513.3 414.9,2510.8 415.2,2508.3 415.5,2505.8 415.7,2503.4 416.0,2500.9 416.3,2498.4 416.6,2495.9 416.9,2493.4 417.1,2490.9 417.4,2488.5 417.7,2486.0 417.9,2483.5 418.2,2481.0 418.5,2478.5 418.8,2476.0 419.0,2473.5 419.3,2471.1 419.6,2468.6 419.8,2466.1 420.1,2463.6 420.4,2461.1 420.6,2458.6 420.9,2456.2 421.2,2453.7 421.4,2451.2 421.7,2448.7 422.0,2446.2 422.2,2443.7 422.5,2441.2 422.8,2438.8 423.0,2436.3 423.3,2433.8 423.6,2431.3 423.8,2428.8 424.1,2426.3 424.4,2423.9 424.6,2421.4 424.9,2418.9 425.2,2416.4 425.4,2413.9 425.7,2411.4 426.0,2408.9 426.2,2406.5 426.5,2404.0 426.8,2401.5 427.1,2399.0 427.3,2396.5 427.6,2394.0 427.9,2391.6 428.2,2389.1 428.4,2386.6 428.7,2384.1 429.0,2381.6 429.3,2379.1 429.5,2376.7 429.8,2374.2 430.1,2371.7 430.4,2369.2 430.7,2366.7 431.0,2364.2 431.3,2361.8 431.5,2359.3 431.8,2356.8 432.1,2354.3 432.4,2351.8 432.7,2349.3 433.0,2346.9 433.3,2344.4 433.6,2341.9 433.9,2339.4 434.2,2336.9 434.6,2334.5 434.9,2332.0 435.2,2329.5 435.5,2327.0 435.8,2324.5 436.2,2322.1 436.5,2319.6 436.8,2317.1 437.2,2314.6 437.5,2312.2 437.8,2309.7 438.2,2307.2 438.6,2304.7 438.9,2302.3 439.3,2299.8 439.6,2297.3 440.0,2294.9 440.4,2292.4 440.8,2289.9 441.2,2287.4 441.6,2285.0 442.0,2282.5 442.4,2280.1 442.9,2277.6 443.3,2275.1 443.8,2272.7 444.2,2270.2 444.7,2267.8 445.2,2265.3 445.8,2262.9 446.3,2260.4 446.9,2258.0 447.5,2255.6 448.1,2253.2 448.7,2250.7 449.5,2248.4 450.2,2246.0 451.1,2243.6 452.0,2241.3 453.1,2239.1 454.5,2237.0 456.4,2235.4 458.8,2235.3 460.7,2236.9 462.1,2239.0 463.2,2241.2 464.2,2243.5 465.1,2245.9 465.8,2248.2 466.6,2250.6 467.2,2253.0 467.9,2255.4 468.5,2257.9 469.1,2260.3 469.6,2262.7 470.2,2265.2 470.7,2267.6 471.2,2270.1 471.7,2272.5 472.1,2275.0 472.6,2277.4 473.0,2279.9 473.5,2282.4 473.9,2284.8 474.3,2287.3 474.7,2289.7 475.1,2292.2 475.5,2294.7 475.9,2297.1 476.3,2299.6 476.7,2302.1 477.1,2304.6 477.4,2307.0 477.8,2309.5 478.2,2312.0 478.5,2314.4 478.9,2316.9 479.2,2319.4 479.6,2321.9 479.9,2324.3 480.3,2326.8 480.6,2329.3 480.9,2331.8 481.3,2334.3 481.6,2336.7 481.9,2339.2 482.2,2341.7 482.6,2344.2 482.9,2346.6 483.2,2349.1 483.5,2351.6 483.8,2354.1 484.1,2356.6 484.4,2359.0 484.7,2361.5 485.1,2364.0 485.4,2366.5 485.7,2369.0 486.0,2371.4 486.3,2373.9 486.6,2376.4 486.9,2378.9 487.2,2381.4 487.5,2383.8 487.8,2386.3 488.0,2388.8 488.3,2391.3 488.6,2393.8 488.9,2396.3 489.2,2398.7 489.5,2401.2 489.8,2403.7 490.1,2406.2 490.4,2408.7 490.7,2411.1 491.0,2413.6 491.2,2416.1 491.5,2418.6 491.8,2421.1 492.1,2423.6 492.4,2426.0 492.7,2428.5 493.0,2431.0 493.3,2433.5 493.6,2436.0 493.8,2438.5 494.1,2440.9 494.4,2443.4 494.7,2445.9 495.0,2448.4 495.3,2450.9 495.6,2453.4 495.9,2455.8 496.2,2458.3 496.5,2460.8 496.7,2463.3 497.0,2465.8 497.3,2468.2 497.6,2470.7 497.9,2473.2 498.2,2475.7 498.5,2478.2 498.8,2480.7 499.1,2483.1 499.4,2485.6 499.7,2488.1 500.0,2490.6 500.3,2493.1 500.6,2495.5 500.9,2498.0 501.2,2500.5 501.5,2503.0 501.8,2505.5 502.1,2507.9 502.5,2510.4 502.8,2512.9 503.1,2515.4 503.4,2517.9 503.7,2520.3 504.0,2522.8 504.4,2525.3 504.7,2527.8 505.0,2530.2 505.4,2532.7 505.7,2535.2 506.0,2537.7 506.4,2540.2 506.7,2542.6 507.1,2545.1 507.4,2547.6 507.8,2550.1 508.1,2552.5 508.5,2555.0 508.8,2557.5 509.2,2559.9 509.6,2562.4 510.0,2564.9 510.3,2567.4 510.7,2569.8 511.1,2572.3 511.5,2574.8 511.9,2577.2 512.4,2579.7 512.8,2582.2 513.2,2584.6 513.6,2587.1 514.1,2589.5 514.5,2592.0 515.0,2594.4 515.5,2596.9 516.0,2599.3 516.5,2601.8 517.0,2604.2 517.5,2606.7 518.1,2609.1 518.7,2611.5 519.3,2614.0 519.9,2616.4 520.6,2618.8 521.3,2621.2 522.0,2623.6 522.8,2626.0 523.7,2628.3 524.7,2630.6 525.7,2632.9 527.0,2635.0 528.6,2636.9 530.7,2638.3 533.1,2638.1 535.1,2636.5 536.6,2634.6 537.9,2632.4 539.0,2630.2 540.0,2627.9 540.8,2625.5 541.7,2623.2 542.5,2620.8 543.2,2618.4 543.9,2616.0 544.6,2613.6 545.2,2611.2 545.9,2608.8 546.5,2606.4 547.1,2603.9 547.6,2601.5 548.2,2599.1 548.7,2596.6 549.3,2594.2 549.8,2591.7 550.3,2589.3 550.8,2586.8 551.3,2584.4 551.8,2581.9 552.3,2579.5 552.8,2577.0 553.2,2574.6 553.7,2572.1 554.2,2569.7 554.6,2567.2 555.1,2564.8 555.5,2562.3 556.0,2559.8 556.4,2557.4 556.8,2554.9 557.3,2552.5 557.7,2550.0 558.1,2547.5 558.6,2545.1 559.0,2542.6 559.4,2540.1 559.8,2537.7 560.2,2535.2 560.7,2532.7 561.1,2530.3 561.5,2527.8 561.9,2525.4 562.3,2522.9 562.7,2520.4 563.1,2518.0 563.6,2515.5 564.0,2513.0 564.4,2510.6 564.8,2508.1 565.2,2505.6 565.6,2503.2 566.0,2500.7 566.4,2498.2 566.9,2495.8 567.3,2493.3 567.7,2490.8 568.1,2488.4 568.5,2485.9 569.0,2483.5 569.4,2481.0 569.8,2478.5 570.2,2476.1 570.7,2473.6 571.1,2471.1 571.5,2468.7 572.0,2466.2 572.4,2463.8 572.9,2461.3 573.3,2458.8 573.8,2456.4 574.2,2453.9 574.7,2451.5 575.1,2449.0 575.6,2446.6 576.1,2444.1 576.6,2441.7 577.1,2439.2 577.6,2436.8 578.1,2434.3 578.6,2431.9 579.1,2429.4 579.7,2427.0 580.2,2424.5 580.8,2422.1 581.3,2419.7 581.9,2417.2 582.5,2414.8 583.1,2412.4 583.8,2410.0 584.4,2407.6 585.1,2405.2 585.8,2402.8 586.5,2400.4 587.3,2398.0 588.1,2395.6 589.0,2393.3 590.0,2391.0 591.0,2388.7 592.1,2386.5 593.4,2384.4 595.0,2382.4 596.9,2380.8 599.2,2380.0 601.6,2380.7 603.5,2382.3 605.0,2384.3 606.4,2386.4 607.5,2388.6 608.6,2390.9 609.5,2393.2 610.4,2395.5 611.3,2397.9 612.1,2400.2 612.8,2402.6 613.6,2405.0 614.3,2407.4 615.0,2409.8 615.6,2412.2 616.2,2414.6 616.9,2417.1 617.5,2419.5 618.1,2421.9 618.6,2424.3 619.2,2426.8 619.8,2429.2 620.3,2431.6 620.9,2434.1 621.4,2436.5 621.9,2439.0 622.4,2441.4 622.9,2443.9 623.4,2446.3 623.9,2448.8 624.4,2451.2 624.9,2453.7 625.4,2456.1 625.9,2458.6 626.4,2461.0 626.8,2463.5 627.3,2465.9 627.8,2468.4 628.2,2470.8 628.7,2473.3 629.1,2475.8 629.6,2478.2 630.1,2480.7 630.5,2483.1 631.0,2485.6 631.4,2488.0 631.9,2490.5 632.3,2493.0 632.8,2495.4 633.2,2497.9 633.7,2500.3 634.1,2502.8 634.5,2505.3 635.0,2507.7 635.4,2510.2 635.9,2512.6 636.3,2515.1 636.8,2517.5 637.2,2520.0 637.7,2522.5 638.1,2524.9 638.6,2527.4 639.0,2529.8 639.5,2532.3 639.9,2534.8 640.4,2537.2 640.9,2539.7 641.3,2542.1 641.8,2544.6 642.3,2547.0 642.7,2549.5 643.2,2551.9 643.7,2554.4 644.2,2556.8 644.6,2559.3 645.1,2561.7 645.6,2564.2 646.1,2566.6 646.6,2569.1 647.1,2571.5 647.7,2574.0 648.2,2576.4 648.7,2578.9 649.3,2581.3 649.8,2583.7 650.4,2586.2 650.9,2588.6 651.5,2591.0 652.1,2593.5 652.7,2595.9 653.3,2598.3 654.0,2600.7 654.6,2603.2 655.3,2605.6 656.0,2608.0 656.7,2610.4 657.4,2612.8 658.2,2615.1 659.0,2617.5 659.8,2619.9 660.7,2622.2 661.6,2624.5 662.6,2626.8 663.7,2629.1 664.9,2631.2 666.2,2633.4 667.8,2635.3 669.6,2637.0 671.8,2638.2 674.3,2638.3 676.5,2637.3 678.5,2635.7 680.1,2633.8 681.5,2631.8 682.8,2629.6 683.9,2627.4 685.0,2625.1 686.1,2622.9 687.0,2620.6 687.9,2618.2 688.8,2615.9 689.7,2613.6 690.5,2611.2 691.3,2608.8 692.1,2606.4 692.8,2604.1 693.6,2601.7 694.3,2599.3 695.0,2596.9 695.7,2594.5 696.4,2592.1 697.1,2589.7 697.8,2587.3 698.5,2584.9 699.1,2582.5 699.8,2580.1 700.4,2577.6 701.1,2575.2 701.7,2572.8 702.4,2570.4 703.0,2568.0 703.6,2565.6 704.3,2563.1 704.9,2560.7 705.5,2558.3 706.2,2555.9 706.8,2553.5 707.4,2551.1 708.1,2548.6 708.7,2546.2 709.3,2543.8 710.0,2541.4 710.6,2539.0 711.3,2536.6 711.9,2534.2 712.6,2531.7 713.2,2529.3 713.9,2526.9 714.6,2524.5 715.3,2522.1 716.0,2519.7 716.7,2517.3 717.4,2514.9 718.1,2512.5 718.9,2510.2 719.7,2507.8 720.4,2505.4 721.2,2503.0 722.1,2500.7 722.9,2498.3 723.8,2496.0 724.7,2493.7 725.7,2491.4 726.7,2489.1 727.7,2486.8 728.9,2484.6 730.1,2482.4 731.4,2480.2 732.8,2478.2 734.4,2476.3 736.3,2474.6 738.4,2473.4 740.9,2472.9 743.3,2473.4 745.5,2474.6 747.3,2476.3 749.0,2478.2 750.4,2480.2 751.8,2482.3 753.0,2484.5 754.1,2486.7 755.2,2489.0 756.2,2491.2 757.2,2493.5 758.2,2495.8 759.1,2498.2 760.0,2500.5 760.8,2502.9 761.7,2505.2 762.5,2507.6 763.3,2509.9 764.1,2512.3 764.8,2514.7 765.6,2517.1 766.3,2519.5 767.1,2521.8 767.8,2524.2 768.5,2526.6 769.2,2529.0 769.9,2531.4 770.6,2533.8 771.3,2536.2 772.0,2538.6 772.7,2541.0 773.4,2543.4 774.1,2545.8 774.8,2548.2 775.5,2550.6 776.1,2553.0 776.8,2555.4 777.5,2557.9 778.2,2560.3 778.9,2562.7 779.6,2565.1 780.2,2567.5 780.9,2569.9 781.6,2572.3 782.3,2574.7 783.0,2577.1 783.7,2579.5 784.5,2581.9 785.2,2584.2 785.9,2586.6 786.7,2589.0 787.4,2591.4 788.2,2593.8 789.0,2596.2 789.7,2598.5 790.6,2600.9 791.4,2603.3 792.2,2605.6 793.1,2608.0 794.0,2610.3 794.9,2612.6 795.8,2614.9 796.8,2617.2 797.8,2619.5 798.9,2621.8 800.0,2624.0 801.2,2626.2 802.5,2628.3 803.9,2630.4 805.4,2632.4 807.0,2634.3 808.8,2636.0 810.9,2637.4 813.3,2638.2 815.7,2638.3 818.2,2637.7 820.3,2636.5 822.3,2634.9 824.0,2633.2 825.6,2631.2 827.1,2629.2 828.5,2627.2 829.8,2625.0 831.1,2622.9 832.3,2620.7 833.4,2618.5 834.6,2616.2 835.6,2614.0 836.7,2611.7 837.7,2609.4 838.8,2607.2 839.8,2604.9 840.7,2602.6 841.7,2600.3 842.7,2598.0 843.6,2595.6 844.6,2593.3 845.5,2591.0 846.5,2588.7 847.4,2586.4 848.4,2584.1 849.3,2581.8 850.3,2579.5 851.2,2577.1 852.2,2574.8 853.1,2572.5 854.1,2570.2 855.1,2567.9 856.1,2565.7 857.1,2563.4 858.2,2561.1 859.2,2558.8 860.3,2556.6 861.5,2554.4 862.6,2552.1 863.8,2550.0 865.1,2547.8 866.4,2545.6 867.7,2543.6 869.2,2541.5 870.7,2539.6 872.4,2537.7 874.2,2536.0 876.2,2534.5 878.4,2533.3 880.8,2532.5 883.2,2532.4 885.7,2532.9 888.0,2533.9 890.0,2535.3 891.9,2537.0 893.7,2538.8 895.3,2540.7 896.8,2542.6 898.2,2544.7 899.6,2546.8 900.9,2548.9 902.2,2551.1 903.4,2553.3 904.6,2555.5 905.7,2557.7 906.8,2559.9 907.9,2562.2 909.0,2564.4 910.1,2566.7 911.1,2568.9 912.2,2571.2 913.2,2573.5 914.2,2575.8 915.2,2578.1 916.3,2580.3 917.3,2582.6 918.3,2584.9 919.3,2587.2 920.3,2589.5 921.3,2591.8 922.3,2594.0 923.4,2596.3 924.4,2598.6 925.5,2600.9 926.5,2603.1 927.6,2605.4 928.7,2607.6 929.8,2609.9 931.0,2612.1 932.1,2614.3 933.3,2616.5 934.6,2618.7 935.8,2620.8 937.2,2622.9 938.6,2625.0 940.0,2627.0 941.5,2629.0 943.1,2630.9 944.9,2632.7 946.7,2634.4 948.7,2635.9 950.9,2637.1 953.3,2638.0 955.7,2638.4 958.2,2638.3 960.6,2637.7 962.9,2636.7 965.1,2635.4 967.1,2634.0 969.0,2632.3 970.8,2630.6 972.5,2628.7 974.1,2626.8 975.6,2624.9 977.2,2622.9 978.6,2620.9 980.1,2618.8 981.5,2616.8 982.9,2614.7 984.2,2612.6 985.6,2610.5 986.9,2608.4 988.3,2606.3 989.6,2604.2 991.0,2602.1 992.3,2600.0 993.7,2597.9 995.0,2595.8 996.4,2593.7 997.9,2591.6 999.3,2589.6 1000.8,2587.6 1002.3,2585.6 1003.8,2583.6 1005.4,2581.7 1007.1,2579.9 1008.9,2578.1 1010.7,2576.4 1012.7,2574.8 1014.7,2573.4 1016.9,2572.2 1019.2,2571.3 1021.7,2570.7 1024.1,2570.5 1026.6,2570.7 1029.1,2571.3 1031.4,2572.2 1033.6,2573.4 1035.6,2574.8 1037.6,2576.4 1039.5,2578.0 1041.3,2579.8 1043.0,2581.6 1044.6,2583.4 1046.3,2585.4 1047.8,2587.3 1049.3,2589.3 1050.8,2591.3 1052.3,2593.3 1053.8,2595.3 1055.2,2597.4 1056.6,2599.4 1058.1,2601.5 1059.5,2603.5 1060.9,2605.6 1062.3,2607.7 1063.8,2609.7 1065.2,2611.7 1066.7,2613.8 1068.1,2615.8 1069.6,2617.8 1071.2,2619.8 1072.7,2621.7 1074.3,2623.6 1076.0,2625.5 1077.7,2627.4 1079.4,2629.1 1081.3,2630.8 1083.2,2632.4 1085.2,2633.9 1087.3,2635.3 1089.5,2636.4 1091.8,2637.3 1094.2,2638.0 1096.7,2638.3 1099.2,2638.4 1101.7,2638.1 1104.1,2637.5 1106.5,2636.6 1108.7,2635.5 1110.9,2634.3 1113.0,2633.0 1115.0,2631.5 1117.0,2630.0 1118.9,2628.3 1120.8,2626.7 1122.6,2625.0 1124.4,2623.3 1126.2,2621.5 1128.0,2619.8 1129.7,2618.0 1131.5,2616.2 1133.3,2614.4 1135.0,2612.7 1136.8,2610.9 1138.6,2609.2 1140.5,2607.5 1142.3,2605.9 1144.3,2604.3 1146.2,2602.7 1148.2,2601.2 1150.3,2599.9 1152.5,2598.6 1154.7,2597.5 1157.0,2596.5 1159.4,2595.8 1161.8,2595.2 1164.3,2594.9 1166.8,2594.9 1169.3,2595.2 1171.8,2595.7 1174.1,2596.4 1176.5,2597.3 1178.7,2598.4 1180.9,2599.6 1183.0,2600.9 1185.1,2602.3 1187.1,2603.8 1189.1,2605.4 1191.0,2607.0 1192.9,2608.6 1194.8,2610.3 1196.6,2611.9 1198.5,2613.6 1200.3,2615.3 1202.1,2617.0 1204.0,2618.7 1205.8,2620.4 1207.7,2622.1 1209.5,2623.7 1211.4,2625.4 1213.4,2626.9 1215.3,2628.5 1217.3,2630.0 1219.4,2631.4 1221.5,2632.7 1223.7,2634.0 1225.9,2635.1 1228.2,2636.1 1230.5,2636.9 1232.9,2637.6 1235.4,2638.1 1237.9,2638.3 1240.4,2638.4 1242.9,2638.2 1245.3,2637.9 1247.8,2637.3 1250.2,2636.6 1252.5,2635.8 1254.8,2634.8 1257.1,2633.8 1259.3,2632.6 1261.5,2631.4 1263.7,2630.1 1265.8,2628.8 1267.9,2627.5 1270.0,2626.2 1272.1,2624.8 1274.2,2623.5 1276.3,2622.1 1278.5,2620.8 1280.6,2619.5 1282.8,2618.2 1284.9,2617.0 1287.2,2615.9 1289.4,2614.8 1291.7,2613.8 1294.0,2612.9 1296.4,2612.2 1298.8,2611.5 1301.3,2611.0 1303.8,2610.7 1306.3,2610.6 1308.8,2610.6 1311.3,2610.7 1313.7,2611.1 1316.2,2611.6 1318.6,2612.2 1321.0,2613.0 1323.3,2613.9 1325.6,2614.8 1327.9,2615.9 1330.1,2617.0 1332.3,2618.1 1334.5,2619.3 1336.7,2620.6 1338.9,2621.8 1341.0,2623.1 1343.2,2624.4 1345.3,2625.6 1347.5,2626.9 1349.6,2628.2 1351.8,2629.4 1354.0,2630.6 1356.2,2631.7 1358.5,2632.8 1360.8,2633.8 1363.1,2634.8 1365.4,2635.6 1367.8,2636.4 1370.2,2637.0 1372.7,2637.6 1375.1,2638.0 1377.6,2638.2 1380.1,2638.4 1382.6,2638.4 1385.1,2638.2 1387.6,2638.0 1390.1,2637.6 1392.5,2637.1 1394.9,2636.5 1397.3,2635.8 1399.7,2635.1 1402.1,2634.3 1404.4,2633.4 1406.8,2632.5 1409.1,2631.6 1411.4,2630.7 1413.7,2629.7 1416.0,2628.8 1418.3,2627.8 1420.7,2626.9 1423.0,2626.0 1425.3,2625.1 1427.7,2624.3 1430.1,2623.6 1432.5,2622.9 1434.9,2622.3 1437.4,2621.7 1439.8,2621.3 1442.3,2620.9 1444.8,2620.7 1447.3,2620.6 1449.8,2620.6 1452.3,2620.6 1454.8,2620.8 1457.2,2621.1 1459.7,2621.5 1462.2,2622.0 1464.6,2622.6 1467.0,2623.2 1469.4,2623.9 1471.8,2624.7 1474.2,2625.5 1476.5,2626.3 1478.9,2627.2 1481.2,2628.1 1483.5,2628.9 1485.9,2629.8 1488.2,2630.7 1490.6,2631.6 1492.9,2632.4 1495.3,2633.3 1497.6,2634.0 1500.0,2634.8 1502.4,2635.5 1504.8,2636.1 1507.3,2636.7 1509.7,2637.2 1512.2,2637.6 1514.7,2637.9 1517.2,2638.2 1519.7,2638.3 1522.2,2638.4 1524.7,2638.4 1527.1,2638.3 1529.6,2638.1 1532.1,2637.8 1534.6,2637.5 1537.1,2637.1 1539.5,2636.7 1542.0,2636.2 1544.4,2635.6 1546.8,2635.0 1549.3,2634.4 1551.7,2633.8 1554.1,2633.2 1556.5,2632.5 1558.9,2631.9 1561.4,2631.3 1563.8,2630.7 1566.2,2630.1 1568.7,2629.5 1571.1,2629.0 1573.6,2628.6 1576.0,2628.1 1578.5,2627.8 1581.0,2627.5 1583.5,2627.3 1586.0,2627.1 1588.5,2627.0 1591.0,2627.0 1593.5,2627.0 1595.9,2627.1 1598.4,2627.3 1600.9,2627.6 1603.4,2627.9 1605.9,2628.2 1608.3,2628.6 1610.8,2629.1 1613.3,2629.6 1615.7,2630.1 1618.1,2630.7 1620.6,2631.2 1623.0,2631.8 1625.4,2632.4 1627.9,2633.0 1630.3,2633.6 1632.7,2634.2 1635.2,2634.7 1637.6,2635.3 1640.0,2635.8 1642.5,2636.2 1645.0,2636.7 1647.4,2637.1 1649.9,2637.4 1652.4,2637.7 1654.9,2638.0 1657.4,2638.2 1659.9,2638.3 1662.3,2638.4 1664.8,2638.4 1667.3,2638.4 1669.8,2638.3 1672.3,2638.1 1674.8,2637.9 1677.3,2637.7 1679.8,2637.4 1682.3,2637.1 1684.8,2636.8 1687.2,2636.4 1689.7,2636.0 1692.2,2635.6 1694.6,2635.2 1697.1,2634.8 1699.6,2634.4 1702.0,2634.0 1704.5,2633.6 1707.0,2633.2 1709.4,2632.8 1711.9,2632.5 1714.4,2632.2 1716.9,2631.9 1719.4,2631.7 1721.9,2631.5 1724.3,2631.3 1726.8,2631.2 1729.3,2631.1 1731.8,2631.1 1734.3,2631.1 1736.8,2631.2 1739.3,2631.3 1741.8,2631.4 1744.3,2631.6 1746.8,2631.8 1749.3,2632.1 1751.8,2632.4 1754.3,2632.7 1756.7,2633.0 1759.2,2633.4 1761.7,2633.7 1764.2,2634.1" stroke="#000000" stroke-dasharray="49.6 65.12"/>
</g>
<g stroke="#000" fill="none">
<line x1="172.4" y1="2638.4" x2="1768.8" y2="2638.4" stroke-width="3.3"/>
<line x1="174.4" y1="2640.1" x2="174.4" y2="1651.0" stroke-width="4.0"/>
<path d="M238.0 2638.4v-12.3M301.6 2638.4v-12.3M365.2 2638.4v-12.3M428.8 2638.4v-12.3M492.4 2638.4v-19.6M555.9 2638.4v-12.3M619.5 2638.4v-12.3M683.1 2638.4v-12.3M746.7 2638.4v-12.3M810.3 2638.4v-19.6M873.9 2638.4v-12.3M937.5 2638.4v-12.3M1001.1 2638.4v-12.3M1064.7 2638.4v-12.3M1128.2 2638.4v-19.6M1191.8 2638.4v-12.3M1255.4 2638.4v-12.3M1319.0 2638.4v-12.3M1382.6 2638.4v-12.3M1446.2 2638.4v-19.6M1509.8 2638.4v-12.3M1573.4 2638.4v-12.3M1637.0 2638.4v-12.3M1700.6 2638.4v-12.3M1764.2 2638.4v-19.6M174.4 2589.2h11.7M174.4 2540.1h11.7M174.4 2491.0h11.7M174.4 2441.8h18.7M174.4 2392.7h11.7M174.4 2343.5h11.7M174.4 2294.3h11.7M174.4 2245.2h18.7M174.4 2196.1h11.7M174.4 2146.9h11.7M174.4 2097.8h11.7M174.4 2048.6h18.7M174.4 1999.5h11.7M174.4 1950.3h11.7M174.4 1901.2h11.7M174.4 1852.0h18.7M174.4 1802.8h11.7M174.4 1753.7h11.7M174.4 1704.6h11.7M174.4 1655.4h18.7" stroke-width="3.5"/>
</g>
<g font-family='"Liberation Sans", Arial, Helvetica, sans-serif' font-size="59" fill="#000" stroke="#000" stroke-width="0.5">
<text transform="translate(493.1 2715.4) scale(.975 1)" text-anchor="middle">100</text>
<text transform="translate(811.0 2715.4) scale(.975 1)" text-anchor="middle">200</text>
<text transform="translate(1129.0 2715.4) scale(.975 1)" text-anchor="middle">300</text>
<text transform="translate(1446.9 2715.4) scale(.975 1)" text-anchor="middle">400</text>
<text transform="translate(1764.9 2715.4) scale(.975 1)" text-anchor="middle">500</text>
<text transform="translate(173.8 2715.4) scale(.975 1)" text-anchor="middle">0</text>
<text transform="translate(157.0 2658.4) scale(.975 1)" text-anchor="end">0.0</text>
<text transform="translate(157.0 2461.8) scale(.975 1)" text-anchor="end">0.2</text>
<text transform="translate(157.0 2265.2) scale(.975 1)" text-anchor="end">0.4</text>
<text transform="translate(157.0 2068.6) scale(.975 1)" text-anchor="end">0.6</text>
<text transform="translate(157.0 1872.0) scale(.975 1)" text-anchor="end">0.8</text>
<text transform="translate(157.0 1675.4) scale(.975 1)" text-anchor="end">1.0</text>
<text x="1809.2" y="2659.3"><tspan font-style="italic">γ</tspan>t</text>
<text x="173.4" y="1604.9" text-anchor="middle" font-size="60.5">C(<tspan font-style="italic" dx="1.5">ρ</tspan><tspan font-size="43" dy="10.6">LR</tspan><tspan dy="-10.6">(t))</tspan></text>
</g>
<text transform="translate(969.3 1521.8) scale(0.987 1.015)" text-anchor="middle" font-family='"Liberation Sans", Arial, Helvetica, sans-serif' font-size="72.5" fill="#000" stroke="#000" stroke-width="0.5">Non<tspan dy="7">−</tspan><tspan dy="-7">Markovian</tspan></text>
<g font-family='"Liberation Sans", Arial, Helvetica, sans-serif' font-size="50" fill="#000">
<line x1="1911.6" y1="1892.3" x2="1953.8" y2="1892.3" stroke="#5E81B5" stroke-width="9.0" stroke-linecap="square"/>
<text x="1985.6" y="1910.2">I=1</text>
<line x1="1911.6" y1="1988.3" x2="1953.8" y2="1988.3" stroke="#E19C24" stroke-width="9.0" stroke-linecap="square" stroke-dasharray="12.2 22.715"/>
<text x="1985.6" y="2006.2">I=0.90</text>
<line x1="1911.6" y1="2083.4" x2="1953.8" y2="2083.4" stroke="#8FB032" stroke-width="9.0" stroke-linecap="square" stroke-dasharray="5.2 19.97 19.7 19.97"/>
<text x="1985.6" y="2101.3">I=0.75</text>
<line x1="1911.6" y1="2178.4" x2="1953.8" y2="2178.4" stroke="#EB6235" stroke-width="9.0" stroke-linecap="square" stroke-dasharray="5.2 19.74"/>
<text x="1985.6" y="2196.3">I=0.50</text>
<line x1="1911.6" y1="2274.4" x2="1953.8" y2="2274.4" stroke="#000000" stroke-width="9.0" stroke-linecap="square" stroke-dasharray="49.6 65.12"/>
<text x="1985.6" y="2292.3">I=0</text>
</g>
</g>
</svg>
</body></html>
